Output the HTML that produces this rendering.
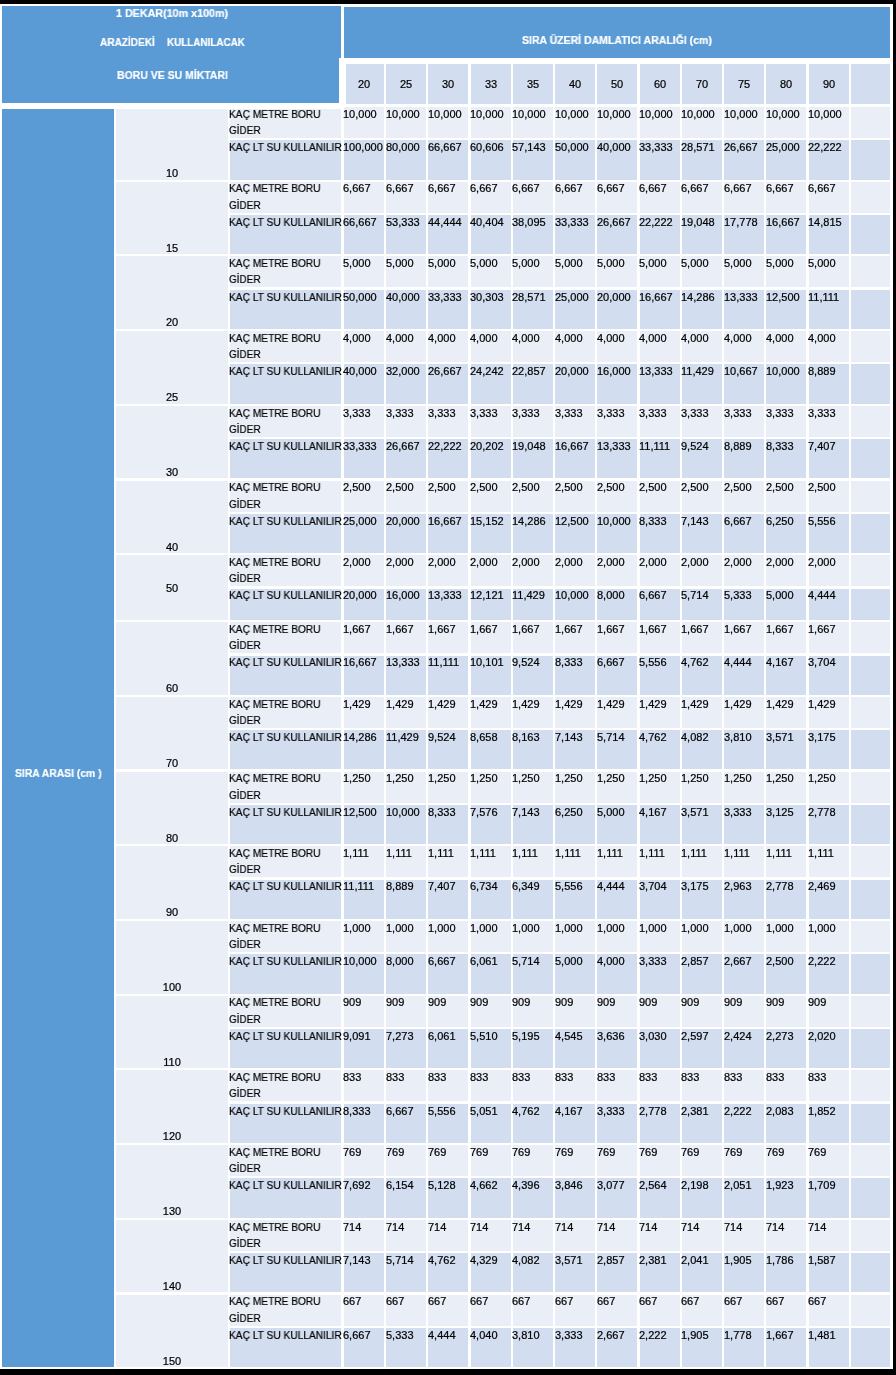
<!DOCTYPE html>
<html><head><meta charset="utf-8"><style>
html,body{margin:0;padding:0;background:#fff;width:896px;height:1375px;overflow:hidden;position:relative}
.r{position:absolute}
.t,.tb{position:absolute;font-family:"Liberation Sans",sans-serif;font-size:11px;line-height:12.65px;white-space:pre;color:#000;transform-origin:0 0;will-change:transform}
.tb{font-weight:bold;color:#fff;-webkit-text-stroke:0.2px #fff}
.t{-webkit-text-stroke:0.22px #000}
.c{transform:translateX(-50%)}
</style></head><body>
<div class="r" style="left:0.00px;top:0.00px;width:896.00px;height:4.00px;background:#000"></div>
<div class="r" style="left:893.00px;top:0.00px;width:3.00px;height:1375.00px;background:#000"></div>
<div class="r" style="left:0.00px;top:1369.00px;width:896.00px;height:6.00px;background:#000"></div>
<div class="r" style="left:2.20px;top:6.40px;width:339.00px;height:51.40px;background:#5B9BD5"></div>
<div class="r" style="left:2.20px;top:57.70px;width:337.00px;height:45.10px;background:#5B9BD5"></div>
<div class="r" style="left:343.60px;top:6.50px;width:546.90px;height:51.20px;background:#5B9BD5"></div>
<div class="r" style="left:345.80px;top:64.10px;width:38.10px;height:40.20px;background:#D2DEEF"></div>
<div class="r" style="left:386.00px;top:64.10px;width:40.10px;height:40.20px;background:#D2DEEF"></div>
<div class="r" style="left:428.25px;top:64.10px;width:40.10px;height:40.20px;background:#D2DEEF"></div>
<div class="r" style="left:470.50px;top:64.10px;width:40.10px;height:40.20px;background:#D2DEEF"></div>
<div class="r" style="left:512.75px;top:64.10px;width:40.10px;height:40.20px;background:#D2DEEF"></div>
<div class="r" style="left:555.00px;top:64.10px;width:40.10px;height:40.20px;background:#D2DEEF"></div>
<div class="r" style="left:597.25px;top:64.10px;width:40.10px;height:40.20px;background:#D2DEEF"></div>
<div class="r" style="left:639.50px;top:64.10px;width:40.10px;height:40.20px;background:#D2DEEF"></div>
<div class="r" style="left:681.75px;top:64.10px;width:40.10px;height:40.20px;background:#D2DEEF"></div>
<div class="r" style="left:724.00px;top:64.10px;width:40.10px;height:40.20px;background:#D2DEEF"></div>
<div class="r" style="left:766.25px;top:64.10px;width:40.10px;height:40.20px;background:#D2DEEF"></div>
<div class="r" style="left:808.50px;top:64.10px;width:40.10px;height:40.20px;background:#D2DEEF"></div>
<div class="r" style="left:850.90px;top:64.10px;width:39.50px;height:40.20px;background:#D2DEEF"></div>
<div class="r" style="left:2.20px;top:108.90px;width:111.70px;height:1257.90px;background:#5B9BD5"></div>
<div class="r" style="left:116.40px;top:108.80px;width:111.30px;height:70.80px;background:#EAEFF7"></div>
<div class="r" style="left:229.60px;top:108.80px;width:111.60px;height:29.20px;background:#EAEFF7"></div>
<div class="r" style="left:229.60px;top:140.30px;width:111.60px;height:39.30px;background:#D2DEEF"></div>
<div class="r" style="left:343.70px;top:107.00px;width:40.20px;height:31.00px;background:#EAEFF7"></div>
<div class="r" style="left:343.70px;top:140.30px;width:40.20px;height:39.30px;background:#D2DEEF"></div>
<div class="r" style="left:386.00px;top:107.00px;width:40.10px;height:31.00px;background:#EAEFF7"></div>
<div class="r" style="left:386.00px;top:140.30px;width:40.10px;height:39.30px;background:#D2DEEF"></div>
<div class="r" style="left:428.25px;top:107.00px;width:40.10px;height:31.00px;background:#EAEFF7"></div>
<div class="r" style="left:428.25px;top:140.30px;width:40.10px;height:39.30px;background:#D2DEEF"></div>
<div class="r" style="left:470.50px;top:107.00px;width:40.10px;height:31.00px;background:#EAEFF7"></div>
<div class="r" style="left:470.50px;top:140.30px;width:40.10px;height:39.30px;background:#D2DEEF"></div>
<div class="r" style="left:512.75px;top:107.00px;width:40.10px;height:31.00px;background:#EAEFF7"></div>
<div class="r" style="left:512.75px;top:140.30px;width:40.10px;height:39.30px;background:#D2DEEF"></div>
<div class="r" style="left:555.00px;top:107.00px;width:40.10px;height:31.00px;background:#EAEFF7"></div>
<div class="r" style="left:555.00px;top:140.30px;width:40.10px;height:39.30px;background:#D2DEEF"></div>
<div class="r" style="left:597.25px;top:107.00px;width:40.10px;height:31.00px;background:#EAEFF7"></div>
<div class="r" style="left:597.25px;top:140.30px;width:40.10px;height:39.30px;background:#D2DEEF"></div>
<div class="r" style="left:639.50px;top:107.00px;width:40.10px;height:31.00px;background:#EAEFF7"></div>
<div class="r" style="left:639.50px;top:140.30px;width:40.10px;height:39.30px;background:#D2DEEF"></div>
<div class="r" style="left:681.75px;top:107.00px;width:40.10px;height:31.00px;background:#EAEFF7"></div>
<div class="r" style="left:681.75px;top:140.30px;width:40.10px;height:39.30px;background:#D2DEEF"></div>
<div class="r" style="left:724.00px;top:107.00px;width:40.10px;height:31.00px;background:#EAEFF7"></div>
<div class="r" style="left:724.00px;top:140.30px;width:40.10px;height:39.30px;background:#D2DEEF"></div>
<div class="r" style="left:766.25px;top:107.00px;width:40.10px;height:31.00px;background:#EAEFF7"></div>
<div class="r" style="left:766.25px;top:140.30px;width:40.10px;height:39.30px;background:#D2DEEF"></div>
<div class="r" style="left:808.50px;top:107.00px;width:40.10px;height:31.00px;background:#EAEFF7"></div>
<div class="r" style="left:808.50px;top:140.30px;width:40.10px;height:39.30px;background:#D2DEEF"></div>
<div class="r" style="left:850.90px;top:107.00px;width:39.50px;height:31.00px;background:#EAEFF7"></div>
<div class="r" style="left:850.90px;top:140.30px;width:39.50px;height:39.30px;background:#D2DEEF"></div>
<div class="r" style="left:116.40px;top:181.70px;width:111.30px;height:72.60px;background:#EAEFF7"></div>
<div class="r" style="left:229.60px;top:181.70px;width:111.60px;height:31.00px;background:#EAEFF7"></div>
<div class="r" style="left:229.60px;top:215.00px;width:111.60px;height:39.30px;background:#D2DEEF"></div>
<div class="r" style="left:343.70px;top:181.70px;width:40.20px;height:31.00px;background:#EAEFF7"></div>
<div class="r" style="left:343.70px;top:215.00px;width:40.20px;height:39.30px;background:#D2DEEF"></div>
<div class="r" style="left:386.00px;top:181.70px;width:40.10px;height:31.00px;background:#EAEFF7"></div>
<div class="r" style="left:386.00px;top:215.00px;width:40.10px;height:39.30px;background:#D2DEEF"></div>
<div class="r" style="left:428.25px;top:181.70px;width:40.10px;height:31.00px;background:#EAEFF7"></div>
<div class="r" style="left:428.25px;top:215.00px;width:40.10px;height:39.30px;background:#D2DEEF"></div>
<div class="r" style="left:470.50px;top:181.70px;width:40.10px;height:31.00px;background:#EAEFF7"></div>
<div class="r" style="left:470.50px;top:215.00px;width:40.10px;height:39.30px;background:#D2DEEF"></div>
<div class="r" style="left:512.75px;top:181.70px;width:40.10px;height:31.00px;background:#EAEFF7"></div>
<div class="r" style="left:512.75px;top:215.00px;width:40.10px;height:39.30px;background:#D2DEEF"></div>
<div class="r" style="left:555.00px;top:181.70px;width:40.10px;height:31.00px;background:#EAEFF7"></div>
<div class="r" style="left:555.00px;top:215.00px;width:40.10px;height:39.30px;background:#D2DEEF"></div>
<div class="r" style="left:597.25px;top:181.70px;width:40.10px;height:31.00px;background:#EAEFF7"></div>
<div class="r" style="left:597.25px;top:215.00px;width:40.10px;height:39.30px;background:#D2DEEF"></div>
<div class="r" style="left:639.50px;top:181.70px;width:40.10px;height:31.00px;background:#EAEFF7"></div>
<div class="r" style="left:639.50px;top:215.00px;width:40.10px;height:39.30px;background:#D2DEEF"></div>
<div class="r" style="left:681.75px;top:181.70px;width:40.10px;height:31.00px;background:#EAEFF7"></div>
<div class="r" style="left:681.75px;top:215.00px;width:40.10px;height:39.30px;background:#D2DEEF"></div>
<div class="r" style="left:724.00px;top:181.70px;width:40.10px;height:31.00px;background:#EAEFF7"></div>
<div class="r" style="left:724.00px;top:215.00px;width:40.10px;height:39.30px;background:#D2DEEF"></div>
<div class="r" style="left:766.25px;top:181.70px;width:40.10px;height:31.00px;background:#EAEFF7"></div>
<div class="r" style="left:766.25px;top:215.00px;width:40.10px;height:39.30px;background:#D2DEEF"></div>
<div class="r" style="left:808.50px;top:181.70px;width:40.10px;height:31.00px;background:#EAEFF7"></div>
<div class="r" style="left:808.50px;top:215.00px;width:40.10px;height:39.30px;background:#D2DEEF"></div>
<div class="r" style="left:850.90px;top:181.70px;width:39.50px;height:31.00px;background:#EAEFF7"></div>
<div class="r" style="left:850.90px;top:215.00px;width:39.50px;height:39.30px;background:#D2DEEF"></div>
<div class="r" style="left:116.40px;top:256.40px;width:111.30px;height:72.60px;background:#EAEFF7"></div>
<div class="r" style="left:229.60px;top:256.40px;width:111.60px;height:31.00px;background:#EAEFF7"></div>
<div class="r" style="left:229.60px;top:289.70px;width:111.60px;height:39.30px;background:#D2DEEF"></div>
<div class="r" style="left:343.70px;top:256.40px;width:40.20px;height:31.00px;background:#EAEFF7"></div>
<div class="r" style="left:343.70px;top:289.70px;width:40.20px;height:39.30px;background:#D2DEEF"></div>
<div class="r" style="left:386.00px;top:256.40px;width:40.10px;height:31.00px;background:#EAEFF7"></div>
<div class="r" style="left:386.00px;top:289.70px;width:40.10px;height:39.30px;background:#D2DEEF"></div>
<div class="r" style="left:428.25px;top:256.40px;width:40.10px;height:31.00px;background:#EAEFF7"></div>
<div class="r" style="left:428.25px;top:289.70px;width:40.10px;height:39.30px;background:#D2DEEF"></div>
<div class="r" style="left:470.50px;top:256.40px;width:40.10px;height:31.00px;background:#EAEFF7"></div>
<div class="r" style="left:470.50px;top:289.70px;width:40.10px;height:39.30px;background:#D2DEEF"></div>
<div class="r" style="left:512.75px;top:256.40px;width:40.10px;height:31.00px;background:#EAEFF7"></div>
<div class="r" style="left:512.75px;top:289.70px;width:40.10px;height:39.30px;background:#D2DEEF"></div>
<div class="r" style="left:555.00px;top:256.40px;width:40.10px;height:31.00px;background:#EAEFF7"></div>
<div class="r" style="left:555.00px;top:289.70px;width:40.10px;height:39.30px;background:#D2DEEF"></div>
<div class="r" style="left:597.25px;top:256.40px;width:40.10px;height:31.00px;background:#EAEFF7"></div>
<div class="r" style="left:597.25px;top:289.70px;width:40.10px;height:39.30px;background:#D2DEEF"></div>
<div class="r" style="left:639.50px;top:256.40px;width:40.10px;height:31.00px;background:#EAEFF7"></div>
<div class="r" style="left:639.50px;top:289.70px;width:40.10px;height:39.30px;background:#D2DEEF"></div>
<div class="r" style="left:681.75px;top:256.40px;width:40.10px;height:31.00px;background:#EAEFF7"></div>
<div class="r" style="left:681.75px;top:289.70px;width:40.10px;height:39.30px;background:#D2DEEF"></div>
<div class="r" style="left:724.00px;top:256.40px;width:40.10px;height:31.00px;background:#EAEFF7"></div>
<div class="r" style="left:724.00px;top:289.70px;width:40.10px;height:39.30px;background:#D2DEEF"></div>
<div class="r" style="left:766.25px;top:256.40px;width:40.10px;height:31.00px;background:#EAEFF7"></div>
<div class="r" style="left:766.25px;top:289.70px;width:40.10px;height:39.30px;background:#D2DEEF"></div>
<div class="r" style="left:808.50px;top:256.40px;width:40.10px;height:31.00px;background:#EAEFF7"></div>
<div class="r" style="left:808.50px;top:289.70px;width:40.10px;height:39.30px;background:#D2DEEF"></div>
<div class="r" style="left:850.90px;top:256.40px;width:39.50px;height:31.00px;background:#EAEFF7"></div>
<div class="r" style="left:850.90px;top:289.70px;width:39.50px;height:39.30px;background:#D2DEEF"></div>
<div class="r" style="left:116.40px;top:331.10px;width:111.30px;height:72.60px;background:#EAEFF7"></div>
<div class="r" style="left:229.60px;top:331.10px;width:111.60px;height:31.00px;background:#EAEFF7"></div>
<div class="r" style="left:229.60px;top:364.40px;width:111.60px;height:39.30px;background:#D2DEEF"></div>
<div class="r" style="left:343.70px;top:331.10px;width:40.20px;height:31.00px;background:#EAEFF7"></div>
<div class="r" style="left:343.70px;top:364.40px;width:40.20px;height:39.30px;background:#D2DEEF"></div>
<div class="r" style="left:386.00px;top:331.10px;width:40.10px;height:31.00px;background:#EAEFF7"></div>
<div class="r" style="left:386.00px;top:364.40px;width:40.10px;height:39.30px;background:#D2DEEF"></div>
<div class="r" style="left:428.25px;top:331.10px;width:40.10px;height:31.00px;background:#EAEFF7"></div>
<div class="r" style="left:428.25px;top:364.40px;width:40.10px;height:39.30px;background:#D2DEEF"></div>
<div class="r" style="left:470.50px;top:331.10px;width:40.10px;height:31.00px;background:#EAEFF7"></div>
<div class="r" style="left:470.50px;top:364.40px;width:40.10px;height:39.30px;background:#D2DEEF"></div>
<div class="r" style="left:512.75px;top:331.10px;width:40.10px;height:31.00px;background:#EAEFF7"></div>
<div class="r" style="left:512.75px;top:364.40px;width:40.10px;height:39.30px;background:#D2DEEF"></div>
<div class="r" style="left:555.00px;top:331.10px;width:40.10px;height:31.00px;background:#EAEFF7"></div>
<div class="r" style="left:555.00px;top:364.40px;width:40.10px;height:39.30px;background:#D2DEEF"></div>
<div class="r" style="left:597.25px;top:331.10px;width:40.10px;height:31.00px;background:#EAEFF7"></div>
<div class="r" style="left:597.25px;top:364.40px;width:40.10px;height:39.30px;background:#D2DEEF"></div>
<div class="r" style="left:639.50px;top:331.10px;width:40.10px;height:31.00px;background:#EAEFF7"></div>
<div class="r" style="left:639.50px;top:364.40px;width:40.10px;height:39.30px;background:#D2DEEF"></div>
<div class="r" style="left:681.75px;top:331.10px;width:40.10px;height:31.00px;background:#EAEFF7"></div>
<div class="r" style="left:681.75px;top:364.40px;width:40.10px;height:39.30px;background:#D2DEEF"></div>
<div class="r" style="left:724.00px;top:331.10px;width:40.10px;height:31.00px;background:#EAEFF7"></div>
<div class="r" style="left:724.00px;top:364.40px;width:40.10px;height:39.30px;background:#D2DEEF"></div>
<div class="r" style="left:766.25px;top:331.10px;width:40.10px;height:31.00px;background:#EAEFF7"></div>
<div class="r" style="left:766.25px;top:364.40px;width:40.10px;height:39.30px;background:#D2DEEF"></div>
<div class="r" style="left:808.50px;top:331.10px;width:40.10px;height:31.00px;background:#EAEFF7"></div>
<div class="r" style="left:808.50px;top:364.40px;width:40.10px;height:39.30px;background:#D2DEEF"></div>
<div class="r" style="left:850.90px;top:331.10px;width:39.50px;height:31.00px;background:#EAEFF7"></div>
<div class="r" style="left:850.90px;top:364.40px;width:39.50px;height:39.30px;background:#D2DEEF"></div>
<div class="r" style="left:116.40px;top:405.80px;width:111.30px;height:72.60px;background:#EAEFF7"></div>
<div class="r" style="left:229.60px;top:405.80px;width:111.60px;height:31.00px;background:#EAEFF7"></div>
<div class="r" style="left:229.60px;top:439.10px;width:111.60px;height:39.30px;background:#D2DEEF"></div>
<div class="r" style="left:343.70px;top:405.80px;width:40.20px;height:31.00px;background:#EAEFF7"></div>
<div class="r" style="left:343.70px;top:439.10px;width:40.20px;height:39.30px;background:#D2DEEF"></div>
<div class="r" style="left:386.00px;top:405.80px;width:40.10px;height:31.00px;background:#EAEFF7"></div>
<div class="r" style="left:386.00px;top:439.10px;width:40.10px;height:39.30px;background:#D2DEEF"></div>
<div class="r" style="left:428.25px;top:405.80px;width:40.10px;height:31.00px;background:#EAEFF7"></div>
<div class="r" style="left:428.25px;top:439.10px;width:40.10px;height:39.30px;background:#D2DEEF"></div>
<div class="r" style="left:470.50px;top:405.80px;width:40.10px;height:31.00px;background:#EAEFF7"></div>
<div class="r" style="left:470.50px;top:439.10px;width:40.10px;height:39.30px;background:#D2DEEF"></div>
<div class="r" style="left:512.75px;top:405.80px;width:40.10px;height:31.00px;background:#EAEFF7"></div>
<div class="r" style="left:512.75px;top:439.10px;width:40.10px;height:39.30px;background:#D2DEEF"></div>
<div class="r" style="left:555.00px;top:405.80px;width:40.10px;height:31.00px;background:#EAEFF7"></div>
<div class="r" style="left:555.00px;top:439.10px;width:40.10px;height:39.30px;background:#D2DEEF"></div>
<div class="r" style="left:597.25px;top:405.80px;width:40.10px;height:31.00px;background:#EAEFF7"></div>
<div class="r" style="left:597.25px;top:439.10px;width:40.10px;height:39.30px;background:#D2DEEF"></div>
<div class="r" style="left:639.50px;top:405.80px;width:40.10px;height:31.00px;background:#EAEFF7"></div>
<div class="r" style="left:639.50px;top:439.10px;width:40.10px;height:39.30px;background:#D2DEEF"></div>
<div class="r" style="left:681.75px;top:405.80px;width:40.10px;height:31.00px;background:#EAEFF7"></div>
<div class="r" style="left:681.75px;top:439.10px;width:40.10px;height:39.30px;background:#D2DEEF"></div>
<div class="r" style="left:724.00px;top:405.80px;width:40.10px;height:31.00px;background:#EAEFF7"></div>
<div class="r" style="left:724.00px;top:439.10px;width:40.10px;height:39.30px;background:#D2DEEF"></div>
<div class="r" style="left:766.25px;top:405.80px;width:40.10px;height:31.00px;background:#EAEFF7"></div>
<div class="r" style="left:766.25px;top:439.10px;width:40.10px;height:39.30px;background:#D2DEEF"></div>
<div class="r" style="left:808.50px;top:405.80px;width:40.10px;height:31.00px;background:#EAEFF7"></div>
<div class="r" style="left:808.50px;top:439.10px;width:40.10px;height:39.30px;background:#D2DEEF"></div>
<div class="r" style="left:850.90px;top:405.80px;width:39.50px;height:31.00px;background:#EAEFF7"></div>
<div class="r" style="left:850.90px;top:439.10px;width:39.50px;height:39.30px;background:#D2DEEF"></div>
<div class="r" style="left:116.40px;top:480.50px;width:111.30px;height:72.60px;background:#EAEFF7"></div>
<div class="r" style="left:229.60px;top:480.50px;width:111.60px;height:31.00px;background:#EAEFF7"></div>
<div class="r" style="left:229.60px;top:513.80px;width:111.60px;height:39.30px;background:#D2DEEF"></div>
<div class="r" style="left:343.70px;top:480.50px;width:40.20px;height:31.00px;background:#EAEFF7"></div>
<div class="r" style="left:343.70px;top:513.80px;width:40.20px;height:39.30px;background:#D2DEEF"></div>
<div class="r" style="left:386.00px;top:480.50px;width:40.10px;height:31.00px;background:#EAEFF7"></div>
<div class="r" style="left:386.00px;top:513.80px;width:40.10px;height:39.30px;background:#D2DEEF"></div>
<div class="r" style="left:428.25px;top:480.50px;width:40.10px;height:31.00px;background:#EAEFF7"></div>
<div class="r" style="left:428.25px;top:513.80px;width:40.10px;height:39.30px;background:#D2DEEF"></div>
<div class="r" style="left:470.50px;top:480.50px;width:40.10px;height:31.00px;background:#EAEFF7"></div>
<div class="r" style="left:470.50px;top:513.80px;width:40.10px;height:39.30px;background:#D2DEEF"></div>
<div class="r" style="left:512.75px;top:480.50px;width:40.10px;height:31.00px;background:#EAEFF7"></div>
<div class="r" style="left:512.75px;top:513.80px;width:40.10px;height:39.30px;background:#D2DEEF"></div>
<div class="r" style="left:555.00px;top:480.50px;width:40.10px;height:31.00px;background:#EAEFF7"></div>
<div class="r" style="left:555.00px;top:513.80px;width:40.10px;height:39.30px;background:#D2DEEF"></div>
<div class="r" style="left:597.25px;top:480.50px;width:40.10px;height:31.00px;background:#EAEFF7"></div>
<div class="r" style="left:597.25px;top:513.80px;width:40.10px;height:39.30px;background:#D2DEEF"></div>
<div class="r" style="left:639.50px;top:480.50px;width:40.10px;height:31.00px;background:#EAEFF7"></div>
<div class="r" style="left:639.50px;top:513.80px;width:40.10px;height:39.30px;background:#D2DEEF"></div>
<div class="r" style="left:681.75px;top:480.50px;width:40.10px;height:31.00px;background:#EAEFF7"></div>
<div class="r" style="left:681.75px;top:513.80px;width:40.10px;height:39.30px;background:#D2DEEF"></div>
<div class="r" style="left:724.00px;top:480.50px;width:40.10px;height:31.00px;background:#EAEFF7"></div>
<div class="r" style="left:724.00px;top:513.80px;width:40.10px;height:39.30px;background:#D2DEEF"></div>
<div class="r" style="left:766.25px;top:480.50px;width:40.10px;height:31.00px;background:#EAEFF7"></div>
<div class="r" style="left:766.25px;top:513.80px;width:40.10px;height:39.30px;background:#D2DEEF"></div>
<div class="r" style="left:808.50px;top:480.50px;width:40.10px;height:31.00px;background:#EAEFF7"></div>
<div class="r" style="left:808.50px;top:513.80px;width:40.10px;height:39.30px;background:#D2DEEF"></div>
<div class="r" style="left:850.90px;top:480.50px;width:39.50px;height:31.00px;background:#EAEFF7"></div>
<div class="r" style="left:850.90px;top:513.80px;width:39.50px;height:39.30px;background:#D2DEEF"></div>
<div class="r" style="left:116.40px;top:555.20px;width:111.30px;height:64.80px;background:#EAEFF7"></div>
<div class="r" style="left:229.60px;top:555.20px;width:111.60px;height:31.00px;background:#EAEFF7"></div>
<div class="r" style="left:229.60px;top:589.20px;width:111.60px;height:30.80px;background:#D2DEEF"></div>
<div class="r" style="left:343.70px;top:555.20px;width:40.20px;height:31.00px;background:#EAEFF7"></div>
<div class="r" style="left:343.70px;top:589.20px;width:40.20px;height:30.80px;background:#D2DEEF"></div>
<div class="r" style="left:386.00px;top:555.20px;width:40.10px;height:31.00px;background:#EAEFF7"></div>
<div class="r" style="left:386.00px;top:589.20px;width:40.10px;height:30.80px;background:#D2DEEF"></div>
<div class="r" style="left:428.25px;top:555.20px;width:40.10px;height:31.00px;background:#EAEFF7"></div>
<div class="r" style="left:428.25px;top:589.20px;width:40.10px;height:30.80px;background:#D2DEEF"></div>
<div class="r" style="left:470.50px;top:555.20px;width:40.10px;height:31.00px;background:#EAEFF7"></div>
<div class="r" style="left:470.50px;top:589.20px;width:40.10px;height:30.80px;background:#D2DEEF"></div>
<div class="r" style="left:512.75px;top:555.20px;width:40.10px;height:31.00px;background:#EAEFF7"></div>
<div class="r" style="left:512.75px;top:589.20px;width:40.10px;height:30.80px;background:#D2DEEF"></div>
<div class="r" style="left:555.00px;top:555.20px;width:40.10px;height:31.00px;background:#EAEFF7"></div>
<div class="r" style="left:555.00px;top:589.20px;width:40.10px;height:30.80px;background:#D2DEEF"></div>
<div class="r" style="left:597.25px;top:555.20px;width:40.10px;height:31.00px;background:#EAEFF7"></div>
<div class="r" style="left:597.25px;top:589.20px;width:40.10px;height:30.80px;background:#D2DEEF"></div>
<div class="r" style="left:639.50px;top:555.20px;width:40.10px;height:31.00px;background:#EAEFF7"></div>
<div class="r" style="left:639.50px;top:589.20px;width:40.10px;height:30.80px;background:#D2DEEF"></div>
<div class="r" style="left:681.75px;top:555.20px;width:40.10px;height:31.00px;background:#EAEFF7"></div>
<div class="r" style="left:681.75px;top:589.20px;width:40.10px;height:30.80px;background:#D2DEEF"></div>
<div class="r" style="left:724.00px;top:555.20px;width:40.10px;height:31.00px;background:#EAEFF7"></div>
<div class="r" style="left:724.00px;top:589.20px;width:40.10px;height:30.80px;background:#D2DEEF"></div>
<div class="r" style="left:766.25px;top:555.20px;width:40.10px;height:31.00px;background:#EAEFF7"></div>
<div class="r" style="left:766.25px;top:589.20px;width:40.10px;height:30.80px;background:#D2DEEF"></div>
<div class="r" style="left:808.50px;top:555.20px;width:40.10px;height:31.00px;background:#EAEFF7"></div>
<div class="r" style="left:808.50px;top:589.20px;width:40.10px;height:30.80px;background:#D2DEEF"></div>
<div class="r" style="left:850.90px;top:555.20px;width:39.50px;height:31.00px;background:#EAEFF7"></div>
<div class="r" style="left:850.90px;top:589.20px;width:39.50px;height:30.80px;background:#D2DEEF"></div>
<div class="r" style="left:116.40px;top:622.20px;width:111.30px;height:72.60px;background:#EAEFF7"></div>
<div class="r" style="left:229.60px;top:622.20px;width:111.60px;height:31.00px;background:#EAEFF7"></div>
<div class="r" style="left:229.60px;top:655.50px;width:111.60px;height:39.30px;background:#D2DEEF"></div>
<div class="r" style="left:343.70px;top:622.20px;width:40.20px;height:31.00px;background:#EAEFF7"></div>
<div class="r" style="left:343.70px;top:655.50px;width:40.20px;height:39.30px;background:#D2DEEF"></div>
<div class="r" style="left:386.00px;top:622.20px;width:40.10px;height:31.00px;background:#EAEFF7"></div>
<div class="r" style="left:386.00px;top:655.50px;width:40.10px;height:39.30px;background:#D2DEEF"></div>
<div class="r" style="left:428.25px;top:622.20px;width:40.10px;height:31.00px;background:#EAEFF7"></div>
<div class="r" style="left:428.25px;top:655.50px;width:40.10px;height:39.30px;background:#D2DEEF"></div>
<div class="r" style="left:470.50px;top:622.20px;width:40.10px;height:31.00px;background:#EAEFF7"></div>
<div class="r" style="left:470.50px;top:655.50px;width:40.10px;height:39.30px;background:#D2DEEF"></div>
<div class="r" style="left:512.75px;top:622.20px;width:40.10px;height:31.00px;background:#EAEFF7"></div>
<div class="r" style="left:512.75px;top:655.50px;width:40.10px;height:39.30px;background:#D2DEEF"></div>
<div class="r" style="left:555.00px;top:622.20px;width:40.10px;height:31.00px;background:#EAEFF7"></div>
<div class="r" style="left:555.00px;top:655.50px;width:40.10px;height:39.30px;background:#D2DEEF"></div>
<div class="r" style="left:597.25px;top:622.20px;width:40.10px;height:31.00px;background:#EAEFF7"></div>
<div class="r" style="left:597.25px;top:655.50px;width:40.10px;height:39.30px;background:#D2DEEF"></div>
<div class="r" style="left:639.50px;top:622.20px;width:40.10px;height:31.00px;background:#EAEFF7"></div>
<div class="r" style="left:639.50px;top:655.50px;width:40.10px;height:39.30px;background:#D2DEEF"></div>
<div class="r" style="left:681.75px;top:622.20px;width:40.10px;height:31.00px;background:#EAEFF7"></div>
<div class="r" style="left:681.75px;top:655.50px;width:40.10px;height:39.30px;background:#D2DEEF"></div>
<div class="r" style="left:724.00px;top:622.20px;width:40.10px;height:31.00px;background:#EAEFF7"></div>
<div class="r" style="left:724.00px;top:655.50px;width:40.10px;height:39.30px;background:#D2DEEF"></div>
<div class="r" style="left:766.25px;top:622.20px;width:40.10px;height:31.00px;background:#EAEFF7"></div>
<div class="r" style="left:766.25px;top:655.50px;width:40.10px;height:39.30px;background:#D2DEEF"></div>
<div class="r" style="left:808.50px;top:622.20px;width:40.10px;height:31.00px;background:#EAEFF7"></div>
<div class="r" style="left:808.50px;top:655.50px;width:40.10px;height:39.30px;background:#D2DEEF"></div>
<div class="r" style="left:850.90px;top:622.20px;width:39.50px;height:31.00px;background:#EAEFF7"></div>
<div class="r" style="left:850.90px;top:655.50px;width:39.50px;height:39.30px;background:#D2DEEF"></div>
<div class="r" style="left:116.40px;top:696.90px;width:111.30px;height:72.60px;background:#EAEFF7"></div>
<div class="r" style="left:229.60px;top:696.90px;width:111.60px;height:31.00px;background:#EAEFF7"></div>
<div class="r" style="left:229.60px;top:730.20px;width:111.60px;height:39.30px;background:#D2DEEF"></div>
<div class="r" style="left:343.70px;top:696.90px;width:40.20px;height:31.00px;background:#EAEFF7"></div>
<div class="r" style="left:343.70px;top:730.20px;width:40.20px;height:39.30px;background:#D2DEEF"></div>
<div class="r" style="left:386.00px;top:696.90px;width:40.10px;height:31.00px;background:#EAEFF7"></div>
<div class="r" style="left:386.00px;top:730.20px;width:40.10px;height:39.30px;background:#D2DEEF"></div>
<div class="r" style="left:428.25px;top:696.90px;width:40.10px;height:31.00px;background:#EAEFF7"></div>
<div class="r" style="left:428.25px;top:730.20px;width:40.10px;height:39.30px;background:#D2DEEF"></div>
<div class="r" style="left:470.50px;top:696.90px;width:40.10px;height:31.00px;background:#EAEFF7"></div>
<div class="r" style="left:470.50px;top:730.20px;width:40.10px;height:39.30px;background:#D2DEEF"></div>
<div class="r" style="left:512.75px;top:696.90px;width:40.10px;height:31.00px;background:#EAEFF7"></div>
<div class="r" style="left:512.75px;top:730.20px;width:40.10px;height:39.30px;background:#D2DEEF"></div>
<div class="r" style="left:555.00px;top:696.90px;width:40.10px;height:31.00px;background:#EAEFF7"></div>
<div class="r" style="left:555.00px;top:730.20px;width:40.10px;height:39.30px;background:#D2DEEF"></div>
<div class="r" style="left:597.25px;top:696.90px;width:40.10px;height:31.00px;background:#EAEFF7"></div>
<div class="r" style="left:597.25px;top:730.20px;width:40.10px;height:39.30px;background:#D2DEEF"></div>
<div class="r" style="left:639.50px;top:696.90px;width:40.10px;height:31.00px;background:#EAEFF7"></div>
<div class="r" style="left:639.50px;top:730.20px;width:40.10px;height:39.30px;background:#D2DEEF"></div>
<div class="r" style="left:681.75px;top:696.90px;width:40.10px;height:31.00px;background:#EAEFF7"></div>
<div class="r" style="left:681.75px;top:730.20px;width:40.10px;height:39.30px;background:#D2DEEF"></div>
<div class="r" style="left:724.00px;top:696.90px;width:40.10px;height:31.00px;background:#EAEFF7"></div>
<div class="r" style="left:724.00px;top:730.20px;width:40.10px;height:39.30px;background:#D2DEEF"></div>
<div class="r" style="left:766.25px;top:696.90px;width:40.10px;height:31.00px;background:#EAEFF7"></div>
<div class="r" style="left:766.25px;top:730.20px;width:40.10px;height:39.30px;background:#D2DEEF"></div>
<div class="r" style="left:808.50px;top:696.90px;width:40.10px;height:31.00px;background:#EAEFF7"></div>
<div class="r" style="left:808.50px;top:730.20px;width:40.10px;height:39.30px;background:#D2DEEF"></div>
<div class="r" style="left:850.90px;top:696.90px;width:39.50px;height:31.00px;background:#EAEFF7"></div>
<div class="r" style="left:850.90px;top:730.20px;width:39.50px;height:39.30px;background:#D2DEEF"></div>
<div class="r" style="left:116.40px;top:771.60px;width:111.30px;height:72.60px;background:#EAEFF7"></div>
<div class="r" style="left:229.60px;top:771.60px;width:111.60px;height:31.00px;background:#EAEFF7"></div>
<div class="r" style="left:229.60px;top:804.90px;width:111.60px;height:39.30px;background:#D2DEEF"></div>
<div class="r" style="left:343.70px;top:771.60px;width:40.20px;height:31.00px;background:#EAEFF7"></div>
<div class="r" style="left:343.70px;top:804.90px;width:40.20px;height:39.30px;background:#D2DEEF"></div>
<div class="r" style="left:386.00px;top:771.60px;width:40.10px;height:31.00px;background:#EAEFF7"></div>
<div class="r" style="left:386.00px;top:804.90px;width:40.10px;height:39.30px;background:#D2DEEF"></div>
<div class="r" style="left:428.25px;top:771.60px;width:40.10px;height:31.00px;background:#EAEFF7"></div>
<div class="r" style="left:428.25px;top:804.90px;width:40.10px;height:39.30px;background:#D2DEEF"></div>
<div class="r" style="left:470.50px;top:771.60px;width:40.10px;height:31.00px;background:#EAEFF7"></div>
<div class="r" style="left:470.50px;top:804.90px;width:40.10px;height:39.30px;background:#D2DEEF"></div>
<div class="r" style="left:512.75px;top:771.60px;width:40.10px;height:31.00px;background:#EAEFF7"></div>
<div class="r" style="left:512.75px;top:804.90px;width:40.10px;height:39.30px;background:#D2DEEF"></div>
<div class="r" style="left:555.00px;top:771.60px;width:40.10px;height:31.00px;background:#EAEFF7"></div>
<div class="r" style="left:555.00px;top:804.90px;width:40.10px;height:39.30px;background:#D2DEEF"></div>
<div class="r" style="left:597.25px;top:771.60px;width:40.10px;height:31.00px;background:#EAEFF7"></div>
<div class="r" style="left:597.25px;top:804.90px;width:40.10px;height:39.30px;background:#D2DEEF"></div>
<div class="r" style="left:639.50px;top:771.60px;width:40.10px;height:31.00px;background:#EAEFF7"></div>
<div class="r" style="left:639.50px;top:804.90px;width:40.10px;height:39.30px;background:#D2DEEF"></div>
<div class="r" style="left:681.75px;top:771.60px;width:40.10px;height:31.00px;background:#EAEFF7"></div>
<div class="r" style="left:681.75px;top:804.90px;width:40.10px;height:39.30px;background:#D2DEEF"></div>
<div class="r" style="left:724.00px;top:771.60px;width:40.10px;height:31.00px;background:#EAEFF7"></div>
<div class="r" style="left:724.00px;top:804.90px;width:40.10px;height:39.30px;background:#D2DEEF"></div>
<div class="r" style="left:766.25px;top:771.60px;width:40.10px;height:31.00px;background:#EAEFF7"></div>
<div class="r" style="left:766.25px;top:804.90px;width:40.10px;height:39.30px;background:#D2DEEF"></div>
<div class="r" style="left:808.50px;top:771.60px;width:40.10px;height:31.00px;background:#EAEFF7"></div>
<div class="r" style="left:808.50px;top:804.90px;width:40.10px;height:39.30px;background:#D2DEEF"></div>
<div class="r" style="left:850.90px;top:771.60px;width:39.50px;height:31.00px;background:#EAEFF7"></div>
<div class="r" style="left:850.90px;top:804.90px;width:39.50px;height:39.30px;background:#D2DEEF"></div>
<div class="r" style="left:116.40px;top:846.30px;width:111.30px;height:72.60px;background:#EAEFF7"></div>
<div class="r" style="left:229.60px;top:846.30px;width:111.60px;height:31.00px;background:#EAEFF7"></div>
<div class="r" style="left:229.60px;top:879.60px;width:111.60px;height:39.30px;background:#D2DEEF"></div>
<div class="r" style="left:343.70px;top:846.30px;width:40.20px;height:31.00px;background:#EAEFF7"></div>
<div class="r" style="left:343.70px;top:879.60px;width:40.20px;height:39.30px;background:#D2DEEF"></div>
<div class="r" style="left:386.00px;top:846.30px;width:40.10px;height:31.00px;background:#EAEFF7"></div>
<div class="r" style="left:386.00px;top:879.60px;width:40.10px;height:39.30px;background:#D2DEEF"></div>
<div class="r" style="left:428.25px;top:846.30px;width:40.10px;height:31.00px;background:#EAEFF7"></div>
<div class="r" style="left:428.25px;top:879.60px;width:40.10px;height:39.30px;background:#D2DEEF"></div>
<div class="r" style="left:470.50px;top:846.30px;width:40.10px;height:31.00px;background:#EAEFF7"></div>
<div class="r" style="left:470.50px;top:879.60px;width:40.10px;height:39.30px;background:#D2DEEF"></div>
<div class="r" style="left:512.75px;top:846.30px;width:40.10px;height:31.00px;background:#EAEFF7"></div>
<div class="r" style="left:512.75px;top:879.60px;width:40.10px;height:39.30px;background:#D2DEEF"></div>
<div class="r" style="left:555.00px;top:846.30px;width:40.10px;height:31.00px;background:#EAEFF7"></div>
<div class="r" style="left:555.00px;top:879.60px;width:40.10px;height:39.30px;background:#D2DEEF"></div>
<div class="r" style="left:597.25px;top:846.30px;width:40.10px;height:31.00px;background:#EAEFF7"></div>
<div class="r" style="left:597.25px;top:879.60px;width:40.10px;height:39.30px;background:#D2DEEF"></div>
<div class="r" style="left:639.50px;top:846.30px;width:40.10px;height:31.00px;background:#EAEFF7"></div>
<div class="r" style="left:639.50px;top:879.60px;width:40.10px;height:39.30px;background:#D2DEEF"></div>
<div class="r" style="left:681.75px;top:846.30px;width:40.10px;height:31.00px;background:#EAEFF7"></div>
<div class="r" style="left:681.75px;top:879.60px;width:40.10px;height:39.30px;background:#D2DEEF"></div>
<div class="r" style="left:724.00px;top:846.30px;width:40.10px;height:31.00px;background:#EAEFF7"></div>
<div class="r" style="left:724.00px;top:879.60px;width:40.10px;height:39.30px;background:#D2DEEF"></div>
<div class="r" style="left:766.25px;top:846.30px;width:40.10px;height:31.00px;background:#EAEFF7"></div>
<div class="r" style="left:766.25px;top:879.60px;width:40.10px;height:39.30px;background:#D2DEEF"></div>
<div class="r" style="left:808.50px;top:846.30px;width:40.10px;height:31.00px;background:#EAEFF7"></div>
<div class="r" style="left:808.50px;top:879.60px;width:40.10px;height:39.30px;background:#D2DEEF"></div>
<div class="r" style="left:850.90px;top:846.30px;width:39.50px;height:31.00px;background:#EAEFF7"></div>
<div class="r" style="left:850.90px;top:879.60px;width:39.50px;height:39.30px;background:#D2DEEF"></div>
<div class="r" style="left:116.40px;top:921.00px;width:111.30px;height:72.60px;background:#EAEFF7"></div>
<div class="r" style="left:229.60px;top:921.00px;width:111.60px;height:31.00px;background:#EAEFF7"></div>
<div class="r" style="left:229.60px;top:954.30px;width:111.60px;height:39.30px;background:#D2DEEF"></div>
<div class="r" style="left:343.70px;top:921.00px;width:40.20px;height:31.00px;background:#EAEFF7"></div>
<div class="r" style="left:343.70px;top:954.30px;width:40.20px;height:39.30px;background:#D2DEEF"></div>
<div class="r" style="left:386.00px;top:921.00px;width:40.10px;height:31.00px;background:#EAEFF7"></div>
<div class="r" style="left:386.00px;top:954.30px;width:40.10px;height:39.30px;background:#D2DEEF"></div>
<div class="r" style="left:428.25px;top:921.00px;width:40.10px;height:31.00px;background:#EAEFF7"></div>
<div class="r" style="left:428.25px;top:954.30px;width:40.10px;height:39.30px;background:#D2DEEF"></div>
<div class="r" style="left:470.50px;top:921.00px;width:40.10px;height:31.00px;background:#EAEFF7"></div>
<div class="r" style="left:470.50px;top:954.30px;width:40.10px;height:39.30px;background:#D2DEEF"></div>
<div class="r" style="left:512.75px;top:921.00px;width:40.10px;height:31.00px;background:#EAEFF7"></div>
<div class="r" style="left:512.75px;top:954.30px;width:40.10px;height:39.30px;background:#D2DEEF"></div>
<div class="r" style="left:555.00px;top:921.00px;width:40.10px;height:31.00px;background:#EAEFF7"></div>
<div class="r" style="left:555.00px;top:954.30px;width:40.10px;height:39.30px;background:#D2DEEF"></div>
<div class="r" style="left:597.25px;top:921.00px;width:40.10px;height:31.00px;background:#EAEFF7"></div>
<div class="r" style="left:597.25px;top:954.30px;width:40.10px;height:39.30px;background:#D2DEEF"></div>
<div class="r" style="left:639.50px;top:921.00px;width:40.10px;height:31.00px;background:#EAEFF7"></div>
<div class="r" style="left:639.50px;top:954.30px;width:40.10px;height:39.30px;background:#D2DEEF"></div>
<div class="r" style="left:681.75px;top:921.00px;width:40.10px;height:31.00px;background:#EAEFF7"></div>
<div class="r" style="left:681.75px;top:954.30px;width:40.10px;height:39.30px;background:#D2DEEF"></div>
<div class="r" style="left:724.00px;top:921.00px;width:40.10px;height:31.00px;background:#EAEFF7"></div>
<div class="r" style="left:724.00px;top:954.30px;width:40.10px;height:39.30px;background:#D2DEEF"></div>
<div class="r" style="left:766.25px;top:921.00px;width:40.10px;height:31.00px;background:#EAEFF7"></div>
<div class="r" style="left:766.25px;top:954.30px;width:40.10px;height:39.30px;background:#D2DEEF"></div>
<div class="r" style="left:808.50px;top:921.00px;width:40.10px;height:31.00px;background:#EAEFF7"></div>
<div class="r" style="left:808.50px;top:954.30px;width:40.10px;height:39.30px;background:#D2DEEF"></div>
<div class="r" style="left:850.90px;top:921.00px;width:39.50px;height:31.00px;background:#EAEFF7"></div>
<div class="r" style="left:850.90px;top:954.30px;width:39.50px;height:39.30px;background:#D2DEEF"></div>
<div class="r" style="left:116.40px;top:995.70px;width:111.30px;height:72.60px;background:#EAEFF7"></div>
<div class="r" style="left:229.60px;top:995.70px;width:111.60px;height:31.00px;background:#EAEFF7"></div>
<div class="r" style="left:229.60px;top:1029.00px;width:111.60px;height:39.30px;background:#D2DEEF"></div>
<div class="r" style="left:343.70px;top:995.70px;width:40.20px;height:31.00px;background:#EAEFF7"></div>
<div class="r" style="left:343.70px;top:1029.00px;width:40.20px;height:39.30px;background:#D2DEEF"></div>
<div class="r" style="left:386.00px;top:995.70px;width:40.10px;height:31.00px;background:#EAEFF7"></div>
<div class="r" style="left:386.00px;top:1029.00px;width:40.10px;height:39.30px;background:#D2DEEF"></div>
<div class="r" style="left:428.25px;top:995.70px;width:40.10px;height:31.00px;background:#EAEFF7"></div>
<div class="r" style="left:428.25px;top:1029.00px;width:40.10px;height:39.30px;background:#D2DEEF"></div>
<div class="r" style="left:470.50px;top:995.70px;width:40.10px;height:31.00px;background:#EAEFF7"></div>
<div class="r" style="left:470.50px;top:1029.00px;width:40.10px;height:39.30px;background:#D2DEEF"></div>
<div class="r" style="left:512.75px;top:995.70px;width:40.10px;height:31.00px;background:#EAEFF7"></div>
<div class="r" style="left:512.75px;top:1029.00px;width:40.10px;height:39.30px;background:#D2DEEF"></div>
<div class="r" style="left:555.00px;top:995.70px;width:40.10px;height:31.00px;background:#EAEFF7"></div>
<div class="r" style="left:555.00px;top:1029.00px;width:40.10px;height:39.30px;background:#D2DEEF"></div>
<div class="r" style="left:597.25px;top:995.70px;width:40.10px;height:31.00px;background:#EAEFF7"></div>
<div class="r" style="left:597.25px;top:1029.00px;width:40.10px;height:39.30px;background:#D2DEEF"></div>
<div class="r" style="left:639.50px;top:995.70px;width:40.10px;height:31.00px;background:#EAEFF7"></div>
<div class="r" style="left:639.50px;top:1029.00px;width:40.10px;height:39.30px;background:#D2DEEF"></div>
<div class="r" style="left:681.75px;top:995.70px;width:40.10px;height:31.00px;background:#EAEFF7"></div>
<div class="r" style="left:681.75px;top:1029.00px;width:40.10px;height:39.30px;background:#D2DEEF"></div>
<div class="r" style="left:724.00px;top:995.70px;width:40.10px;height:31.00px;background:#EAEFF7"></div>
<div class="r" style="left:724.00px;top:1029.00px;width:40.10px;height:39.30px;background:#D2DEEF"></div>
<div class="r" style="left:766.25px;top:995.70px;width:40.10px;height:31.00px;background:#EAEFF7"></div>
<div class="r" style="left:766.25px;top:1029.00px;width:40.10px;height:39.30px;background:#D2DEEF"></div>
<div class="r" style="left:808.50px;top:995.70px;width:40.10px;height:31.00px;background:#EAEFF7"></div>
<div class="r" style="left:808.50px;top:1029.00px;width:40.10px;height:39.30px;background:#D2DEEF"></div>
<div class="r" style="left:850.90px;top:995.70px;width:39.50px;height:31.00px;background:#EAEFF7"></div>
<div class="r" style="left:850.90px;top:1029.00px;width:39.50px;height:39.30px;background:#D2DEEF"></div>
<div class="r" style="left:116.40px;top:1070.40px;width:111.30px;height:72.60px;background:#EAEFF7"></div>
<div class="r" style="left:229.60px;top:1070.40px;width:111.60px;height:31.00px;background:#EAEFF7"></div>
<div class="r" style="left:229.60px;top:1103.70px;width:111.60px;height:39.30px;background:#D2DEEF"></div>
<div class="r" style="left:343.70px;top:1070.40px;width:40.20px;height:31.00px;background:#EAEFF7"></div>
<div class="r" style="left:343.70px;top:1103.70px;width:40.20px;height:39.30px;background:#D2DEEF"></div>
<div class="r" style="left:386.00px;top:1070.40px;width:40.10px;height:31.00px;background:#EAEFF7"></div>
<div class="r" style="left:386.00px;top:1103.70px;width:40.10px;height:39.30px;background:#D2DEEF"></div>
<div class="r" style="left:428.25px;top:1070.40px;width:40.10px;height:31.00px;background:#EAEFF7"></div>
<div class="r" style="left:428.25px;top:1103.70px;width:40.10px;height:39.30px;background:#D2DEEF"></div>
<div class="r" style="left:470.50px;top:1070.40px;width:40.10px;height:31.00px;background:#EAEFF7"></div>
<div class="r" style="left:470.50px;top:1103.70px;width:40.10px;height:39.30px;background:#D2DEEF"></div>
<div class="r" style="left:512.75px;top:1070.40px;width:40.10px;height:31.00px;background:#EAEFF7"></div>
<div class="r" style="left:512.75px;top:1103.70px;width:40.10px;height:39.30px;background:#D2DEEF"></div>
<div class="r" style="left:555.00px;top:1070.40px;width:40.10px;height:31.00px;background:#EAEFF7"></div>
<div class="r" style="left:555.00px;top:1103.70px;width:40.10px;height:39.30px;background:#D2DEEF"></div>
<div class="r" style="left:597.25px;top:1070.40px;width:40.10px;height:31.00px;background:#EAEFF7"></div>
<div class="r" style="left:597.25px;top:1103.70px;width:40.10px;height:39.30px;background:#D2DEEF"></div>
<div class="r" style="left:639.50px;top:1070.40px;width:40.10px;height:31.00px;background:#EAEFF7"></div>
<div class="r" style="left:639.50px;top:1103.70px;width:40.10px;height:39.30px;background:#D2DEEF"></div>
<div class="r" style="left:681.75px;top:1070.40px;width:40.10px;height:31.00px;background:#EAEFF7"></div>
<div class="r" style="left:681.75px;top:1103.70px;width:40.10px;height:39.30px;background:#D2DEEF"></div>
<div class="r" style="left:724.00px;top:1070.40px;width:40.10px;height:31.00px;background:#EAEFF7"></div>
<div class="r" style="left:724.00px;top:1103.70px;width:40.10px;height:39.30px;background:#D2DEEF"></div>
<div class="r" style="left:766.25px;top:1070.40px;width:40.10px;height:31.00px;background:#EAEFF7"></div>
<div class="r" style="left:766.25px;top:1103.70px;width:40.10px;height:39.30px;background:#D2DEEF"></div>
<div class="r" style="left:808.50px;top:1070.40px;width:40.10px;height:31.00px;background:#EAEFF7"></div>
<div class="r" style="left:808.50px;top:1103.70px;width:40.10px;height:39.30px;background:#D2DEEF"></div>
<div class="r" style="left:850.90px;top:1070.40px;width:39.50px;height:31.00px;background:#EAEFF7"></div>
<div class="r" style="left:850.90px;top:1103.70px;width:39.50px;height:39.30px;background:#D2DEEF"></div>
<div class="r" style="left:116.40px;top:1145.10px;width:111.30px;height:72.60px;background:#EAEFF7"></div>
<div class="r" style="left:229.60px;top:1145.10px;width:111.60px;height:31.00px;background:#EAEFF7"></div>
<div class="r" style="left:229.60px;top:1178.40px;width:111.60px;height:39.30px;background:#D2DEEF"></div>
<div class="r" style="left:343.70px;top:1145.10px;width:40.20px;height:31.00px;background:#EAEFF7"></div>
<div class="r" style="left:343.70px;top:1178.40px;width:40.20px;height:39.30px;background:#D2DEEF"></div>
<div class="r" style="left:386.00px;top:1145.10px;width:40.10px;height:31.00px;background:#EAEFF7"></div>
<div class="r" style="left:386.00px;top:1178.40px;width:40.10px;height:39.30px;background:#D2DEEF"></div>
<div class="r" style="left:428.25px;top:1145.10px;width:40.10px;height:31.00px;background:#EAEFF7"></div>
<div class="r" style="left:428.25px;top:1178.40px;width:40.10px;height:39.30px;background:#D2DEEF"></div>
<div class="r" style="left:470.50px;top:1145.10px;width:40.10px;height:31.00px;background:#EAEFF7"></div>
<div class="r" style="left:470.50px;top:1178.40px;width:40.10px;height:39.30px;background:#D2DEEF"></div>
<div class="r" style="left:512.75px;top:1145.10px;width:40.10px;height:31.00px;background:#EAEFF7"></div>
<div class="r" style="left:512.75px;top:1178.40px;width:40.10px;height:39.30px;background:#D2DEEF"></div>
<div class="r" style="left:555.00px;top:1145.10px;width:40.10px;height:31.00px;background:#EAEFF7"></div>
<div class="r" style="left:555.00px;top:1178.40px;width:40.10px;height:39.30px;background:#D2DEEF"></div>
<div class="r" style="left:597.25px;top:1145.10px;width:40.10px;height:31.00px;background:#EAEFF7"></div>
<div class="r" style="left:597.25px;top:1178.40px;width:40.10px;height:39.30px;background:#D2DEEF"></div>
<div class="r" style="left:639.50px;top:1145.10px;width:40.10px;height:31.00px;background:#EAEFF7"></div>
<div class="r" style="left:639.50px;top:1178.40px;width:40.10px;height:39.30px;background:#D2DEEF"></div>
<div class="r" style="left:681.75px;top:1145.10px;width:40.10px;height:31.00px;background:#EAEFF7"></div>
<div class="r" style="left:681.75px;top:1178.40px;width:40.10px;height:39.30px;background:#D2DEEF"></div>
<div class="r" style="left:724.00px;top:1145.10px;width:40.10px;height:31.00px;background:#EAEFF7"></div>
<div class="r" style="left:724.00px;top:1178.40px;width:40.10px;height:39.30px;background:#D2DEEF"></div>
<div class="r" style="left:766.25px;top:1145.10px;width:40.10px;height:31.00px;background:#EAEFF7"></div>
<div class="r" style="left:766.25px;top:1178.40px;width:40.10px;height:39.30px;background:#D2DEEF"></div>
<div class="r" style="left:808.50px;top:1145.10px;width:40.10px;height:31.00px;background:#EAEFF7"></div>
<div class="r" style="left:808.50px;top:1178.40px;width:40.10px;height:39.30px;background:#D2DEEF"></div>
<div class="r" style="left:850.90px;top:1145.10px;width:39.50px;height:31.00px;background:#EAEFF7"></div>
<div class="r" style="left:850.90px;top:1178.40px;width:39.50px;height:39.30px;background:#D2DEEF"></div>
<div class="r" style="left:116.40px;top:1219.80px;width:111.30px;height:72.60px;background:#EAEFF7"></div>
<div class="r" style="left:229.60px;top:1219.80px;width:111.60px;height:31.00px;background:#EAEFF7"></div>
<div class="r" style="left:229.60px;top:1253.10px;width:111.60px;height:39.30px;background:#D2DEEF"></div>
<div class="r" style="left:343.70px;top:1219.80px;width:40.20px;height:31.00px;background:#EAEFF7"></div>
<div class="r" style="left:343.70px;top:1253.10px;width:40.20px;height:39.30px;background:#D2DEEF"></div>
<div class="r" style="left:386.00px;top:1219.80px;width:40.10px;height:31.00px;background:#EAEFF7"></div>
<div class="r" style="left:386.00px;top:1253.10px;width:40.10px;height:39.30px;background:#D2DEEF"></div>
<div class="r" style="left:428.25px;top:1219.80px;width:40.10px;height:31.00px;background:#EAEFF7"></div>
<div class="r" style="left:428.25px;top:1253.10px;width:40.10px;height:39.30px;background:#D2DEEF"></div>
<div class="r" style="left:470.50px;top:1219.80px;width:40.10px;height:31.00px;background:#EAEFF7"></div>
<div class="r" style="left:470.50px;top:1253.10px;width:40.10px;height:39.30px;background:#D2DEEF"></div>
<div class="r" style="left:512.75px;top:1219.80px;width:40.10px;height:31.00px;background:#EAEFF7"></div>
<div class="r" style="left:512.75px;top:1253.10px;width:40.10px;height:39.30px;background:#D2DEEF"></div>
<div class="r" style="left:555.00px;top:1219.80px;width:40.10px;height:31.00px;background:#EAEFF7"></div>
<div class="r" style="left:555.00px;top:1253.10px;width:40.10px;height:39.30px;background:#D2DEEF"></div>
<div class="r" style="left:597.25px;top:1219.80px;width:40.10px;height:31.00px;background:#EAEFF7"></div>
<div class="r" style="left:597.25px;top:1253.10px;width:40.10px;height:39.30px;background:#D2DEEF"></div>
<div class="r" style="left:639.50px;top:1219.80px;width:40.10px;height:31.00px;background:#EAEFF7"></div>
<div class="r" style="left:639.50px;top:1253.10px;width:40.10px;height:39.30px;background:#D2DEEF"></div>
<div class="r" style="left:681.75px;top:1219.80px;width:40.10px;height:31.00px;background:#EAEFF7"></div>
<div class="r" style="left:681.75px;top:1253.10px;width:40.10px;height:39.30px;background:#D2DEEF"></div>
<div class="r" style="left:724.00px;top:1219.80px;width:40.10px;height:31.00px;background:#EAEFF7"></div>
<div class="r" style="left:724.00px;top:1253.10px;width:40.10px;height:39.30px;background:#D2DEEF"></div>
<div class="r" style="left:766.25px;top:1219.80px;width:40.10px;height:31.00px;background:#EAEFF7"></div>
<div class="r" style="left:766.25px;top:1253.10px;width:40.10px;height:39.30px;background:#D2DEEF"></div>
<div class="r" style="left:808.50px;top:1219.80px;width:40.10px;height:31.00px;background:#EAEFF7"></div>
<div class="r" style="left:808.50px;top:1253.10px;width:40.10px;height:39.30px;background:#D2DEEF"></div>
<div class="r" style="left:850.90px;top:1219.80px;width:39.50px;height:31.00px;background:#EAEFF7"></div>
<div class="r" style="left:850.90px;top:1253.10px;width:39.50px;height:39.30px;background:#D2DEEF"></div>
<div class="r" style="left:116.40px;top:1294.50px;width:111.30px;height:72.60px;background:#EAEFF7"></div>
<div class="r" style="left:229.60px;top:1294.50px;width:111.60px;height:31.00px;background:#EAEFF7"></div>
<div class="r" style="left:229.60px;top:1327.80px;width:111.60px;height:39.30px;background:#D2DEEF"></div>
<div class="r" style="left:343.70px;top:1294.50px;width:40.20px;height:31.00px;background:#EAEFF7"></div>
<div class="r" style="left:343.70px;top:1327.80px;width:40.20px;height:39.30px;background:#D2DEEF"></div>
<div class="r" style="left:386.00px;top:1294.50px;width:40.10px;height:31.00px;background:#EAEFF7"></div>
<div class="r" style="left:386.00px;top:1327.80px;width:40.10px;height:39.30px;background:#D2DEEF"></div>
<div class="r" style="left:428.25px;top:1294.50px;width:40.10px;height:31.00px;background:#EAEFF7"></div>
<div class="r" style="left:428.25px;top:1327.80px;width:40.10px;height:39.30px;background:#D2DEEF"></div>
<div class="r" style="left:470.50px;top:1294.50px;width:40.10px;height:31.00px;background:#EAEFF7"></div>
<div class="r" style="left:470.50px;top:1327.80px;width:40.10px;height:39.30px;background:#D2DEEF"></div>
<div class="r" style="left:512.75px;top:1294.50px;width:40.10px;height:31.00px;background:#EAEFF7"></div>
<div class="r" style="left:512.75px;top:1327.80px;width:40.10px;height:39.30px;background:#D2DEEF"></div>
<div class="r" style="left:555.00px;top:1294.50px;width:40.10px;height:31.00px;background:#EAEFF7"></div>
<div class="r" style="left:555.00px;top:1327.80px;width:40.10px;height:39.30px;background:#D2DEEF"></div>
<div class="r" style="left:597.25px;top:1294.50px;width:40.10px;height:31.00px;background:#EAEFF7"></div>
<div class="r" style="left:597.25px;top:1327.80px;width:40.10px;height:39.30px;background:#D2DEEF"></div>
<div class="r" style="left:639.50px;top:1294.50px;width:40.10px;height:31.00px;background:#EAEFF7"></div>
<div class="r" style="left:639.50px;top:1327.80px;width:40.10px;height:39.30px;background:#D2DEEF"></div>
<div class="r" style="left:681.75px;top:1294.50px;width:40.10px;height:31.00px;background:#EAEFF7"></div>
<div class="r" style="left:681.75px;top:1327.80px;width:40.10px;height:39.30px;background:#D2DEEF"></div>
<div class="r" style="left:724.00px;top:1294.50px;width:40.10px;height:31.00px;background:#EAEFF7"></div>
<div class="r" style="left:724.00px;top:1327.80px;width:40.10px;height:39.30px;background:#D2DEEF"></div>
<div class="r" style="left:766.25px;top:1294.50px;width:40.10px;height:31.00px;background:#EAEFF7"></div>
<div class="r" style="left:766.25px;top:1327.80px;width:40.10px;height:39.30px;background:#D2DEEF"></div>
<div class="r" style="left:808.50px;top:1294.50px;width:40.10px;height:31.00px;background:#EAEFF7"></div>
<div class="r" style="left:808.50px;top:1327.80px;width:40.10px;height:39.30px;background:#D2DEEF"></div>
<div class="r" style="left:850.90px;top:1294.50px;width:39.50px;height:31.00px;background:#EAEFF7"></div>
<div class="r" style="left:850.90px;top:1327.80px;width:39.50px;height:39.30px;background:#D2DEEF"></div>
<div class="tb" style="left:116.20px;top:6.94px;transform:scaleX(0.975);">1 DEKAR(10m x100m)</div>
<div class="tb" style="left:99.50px;top:35.84px;transform:scaleX(0.916);">ARAZİDEKİ</div>
<div class="tb" style="left:166.50px;top:35.84px;transform:scaleX(0.897);">KULLANILACAK</div>
<div class="tb" style="left:116.80px;top:68.95px;transform:scaleX(0.952);">BORU VE SU MİKTARI</div>
<div class="tb" style="left:522.10px;top:34.15px;transform:scaleX(0.955);">SIRA ÜZERİ DAMLATICI ARALIĞI (cm)</div>
<div class="tb" style="left:14.65px;top:766.84px;transform:scaleX(0.94);">SIRA ARASI (cm )</div>
<div class="t c" style="left:363.80px;top:77.75px;">20</div>
<div class="t c" style="left:406.05px;top:77.75px;">25</div>
<div class="t c" style="left:448.30px;top:77.75px;">30</div>
<div class="t c" style="left:490.55px;top:77.75px;">33</div>
<div class="t c" style="left:532.80px;top:77.75px;">35</div>
<div class="t c" style="left:575.05px;top:77.75px;">40</div>
<div class="t c" style="left:617.30px;top:77.75px;">50</div>
<div class="t c" style="left:659.55px;top:77.75px;">60</div>
<div class="t c" style="left:701.80px;top:77.75px;">70</div>
<div class="t c" style="left:744.05px;top:77.75px;">75</div>
<div class="t c" style="left:786.30px;top:77.75px;">80</div>
<div class="t c" style="left:828.55px;top:77.75px;">90</div>
<div class="t" style="left:229.10px;top:107.75px;transform:scaleX(0.925);">KAÇ METRE BORU</div>
<div class="t" style="left:229.10px;top:124.05px;transform:scaleX(0.906);">GİDER</div>
<div class="t" style="left:229.10px;top:141.15px;transform:scaleX(0.925);">KAÇ LT SU KULLANILIR</div>
<div class="t c" style="left:172.00px;top:167.04px;">10</div>
<div class="t" style="left:343.40px;top:107.75px;">10,000</div>
<div class="t" style="left:343.40px;top:141.15px;">100,000</div>
<div class="t" style="left:385.60px;top:107.75px;">10,000</div>
<div class="t" style="left:385.60px;top:141.15px;">80,000</div>
<div class="t" style="left:427.85px;top:107.75px;">10,000</div>
<div class="t" style="left:427.85px;top:141.15px;">66,667</div>
<div class="t" style="left:470.10px;top:107.75px;">10,000</div>
<div class="t" style="left:470.10px;top:141.15px;">60,606</div>
<div class="t" style="left:512.35px;top:107.75px;">10,000</div>
<div class="t" style="left:512.35px;top:141.15px;">57,143</div>
<div class="t" style="left:554.60px;top:107.75px;">10,000</div>
<div class="t" style="left:554.60px;top:141.15px;">50,000</div>
<div class="t" style="left:596.85px;top:107.75px;">10,000</div>
<div class="t" style="left:596.85px;top:141.15px;">40,000</div>
<div class="t" style="left:639.10px;top:107.75px;">10,000</div>
<div class="t" style="left:639.10px;top:141.15px;">33,333</div>
<div class="t" style="left:681.35px;top:107.75px;">10,000</div>
<div class="t" style="left:681.35px;top:141.15px;">28,571</div>
<div class="t" style="left:723.60px;top:107.75px;">10,000</div>
<div class="t" style="left:723.60px;top:141.15px;">26,667</div>
<div class="t" style="left:765.85px;top:107.75px;">10,000</div>
<div class="t" style="left:765.85px;top:141.15px;">25,000</div>
<div class="t" style="left:808.10px;top:107.75px;">10,000</div>
<div class="t" style="left:808.10px;top:141.15px;">22,222</div>
<div class="t" style="left:229.10px;top:182.44px;transform:scaleX(0.925);">KAÇ METRE BORU</div>
<div class="t" style="left:229.10px;top:198.74px;transform:scaleX(0.906);">GİDER</div>
<div class="t" style="left:229.10px;top:215.84px;transform:scaleX(0.925);">KAÇ LT SU KULLANILIR</div>
<div class="t c" style="left:172.00px;top:241.74px;">15</div>
<div class="t" style="left:343.40px;top:182.44px;">6,667</div>
<div class="t" style="left:343.40px;top:215.84px;">66,667</div>
<div class="t" style="left:385.60px;top:182.44px;">6,667</div>
<div class="t" style="left:385.60px;top:215.84px;">53,333</div>
<div class="t" style="left:427.85px;top:182.44px;">6,667</div>
<div class="t" style="left:427.85px;top:215.84px;">44,444</div>
<div class="t" style="left:470.10px;top:182.44px;">6,667</div>
<div class="t" style="left:470.10px;top:215.84px;">40,404</div>
<div class="t" style="left:512.35px;top:182.44px;">6,667</div>
<div class="t" style="left:512.35px;top:215.84px;">38,095</div>
<div class="t" style="left:554.60px;top:182.44px;">6,667</div>
<div class="t" style="left:554.60px;top:215.84px;">33,333</div>
<div class="t" style="left:596.85px;top:182.44px;">6,667</div>
<div class="t" style="left:596.85px;top:215.84px;">26,667</div>
<div class="t" style="left:639.10px;top:182.44px;">6,667</div>
<div class="t" style="left:639.10px;top:215.84px;">22,222</div>
<div class="t" style="left:681.35px;top:182.44px;">6,667</div>
<div class="t" style="left:681.35px;top:215.84px;">19,048</div>
<div class="t" style="left:723.60px;top:182.44px;">6,667</div>
<div class="t" style="left:723.60px;top:215.84px;">17,778</div>
<div class="t" style="left:765.85px;top:182.44px;">6,667</div>
<div class="t" style="left:765.85px;top:215.84px;">16,667</div>
<div class="t" style="left:808.10px;top:182.44px;">6,667</div>
<div class="t" style="left:808.10px;top:215.84px;">14,815</div>
<div class="t" style="left:229.10px;top:257.14px;transform:scaleX(0.925);">KAÇ METRE BORU</div>
<div class="t" style="left:229.10px;top:273.44px;transform:scaleX(0.906);">GİDER</div>
<div class="t" style="left:229.10px;top:290.55px;transform:scaleX(0.925);">KAÇ LT SU KULLANILIR</div>
<div class="t c" style="left:172.00px;top:316.44px;">20</div>
<div class="t" style="left:343.40px;top:257.14px;">5,000</div>
<div class="t" style="left:343.40px;top:290.55px;">50,000</div>
<div class="t" style="left:385.60px;top:257.14px;">5,000</div>
<div class="t" style="left:385.60px;top:290.55px;">40,000</div>
<div class="t" style="left:427.85px;top:257.14px;">5,000</div>
<div class="t" style="left:427.85px;top:290.55px;">33,333</div>
<div class="t" style="left:470.10px;top:257.14px;">5,000</div>
<div class="t" style="left:470.10px;top:290.55px;">30,303</div>
<div class="t" style="left:512.35px;top:257.14px;">5,000</div>
<div class="t" style="left:512.35px;top:290.55px;">28,571</div>
<div class="t" style="left:554.60px;top:257.14px;">5,000</div>
<div class="t" style="left:554.60px;top:290.55px;">25,000</div>
<div class="t" style="left:596.85px;top:257.14px;">5,000</div>
<div class="t" style="left:596.85px;top:290.55px;">20,000</div>
<div class="t" style="left:639.10px;top:257.14px;">5,000</div>
<div class="t" style="left:639.10px;top:290.55px;">16,667</div>
<div class="t" style="left:681.35px;top:257.14px;">5,000</div>
<div class="t" style="left:681.35px;top:290.55px;">14,286</div>
<div class="t" style="left:723.60px;top:257.14px;">5,000</div>
<div class="t" style="left:723.60px;top:290.55px;">13,333</div>
<div class="t" style="left:765.85px;top:257.14px;">5,000</div>
<div class="t" style="left:765.85px;top:290.55px;">12,500</div>
<div class="t" style="left:808.10px;top:257.14px;">5,000</div>
<div class="t" style="left:808.10px;top:290.55px;">11,111</div>
<div class="t" style="left:229.10px;top:331.84px;transform:scaleX(0.925);">KAÇ METRE BORU</div>
<div class="t" style="left:229.10px;top:348.14px;transform:scaleX(0.906);">GİDER</div>
<div class="t" style="left:229.10px;top:365.25px;transform:scaleX(0.925);">KAÇ LT SU KULLANILIR</div>
<div class="t c" style="left:172.00px;top:391.14px;">25</div>
<div class="t" style="left:343.40px;top:331.84px;">4,000</div>
<div class="t" style="left:343.40px;top:365.25px;">40,000</div>
<div class="t" style="left:385.60px;top:331.84px;">4,000</div>
<div class="t" style="left:385.60px;top:365.25px;">32,000</div>
<div class="t" style="left:427.85px;top:331.84px;">4,000</div>
<div class="t" style="left:427.85px;top:365.25px;">26,667</div>
<div class="t" style="left:470.10px;top:331.84px;">4,000</div>
<div class="t" style="left:470.10px;top:365.25px;">24,242</div>
<div class="t" style="left:512.35px;top:331.84px;">4,000</div>
<div class="t" style="left:512.35px;top:365.25px;">22,857</div>
<div class="t" style="left:554.60px;top:331.84px;">4,000</div>
<div class="t" style="left:554.60px;top:365.25px;">20,000</div>
<div class="t" style="left:596.85px;top:331.84px;">4,000</div>
<div class="t" style="left:596.85px;top:365.25px;">16,000</div>
<div class="t" style="left:639.10px;top:331.84px;">4,000</div>
<div class="t" style="left:639.10px;top:365.25px;">13,333</div>
<div class="t" style="left:681.35px;top:331.84px;">4,000</div>
<div class="t" style="left:681.35px;top:365.25px;">11,429</div>
<div class="t" style="left:723.60px;top:331.84px;">4,000</div>
<div class="t" style="left:723.60px;top:365.25px;">10,667</div>
<div class="t" style="left:765.85px;top:331.84px;">4,000</div>
<div class="t" style="left:765.85px;top:365.25px;">10,000</div>
<div class="t" style="left:808.10px;top:331.84px;">4,000</div>
<div class="t" style="left:808.10px;top:365.25px;">8,889</div>
<div class="t" style="left:229.10px;top:406.54px;transform:scaleX(0.925);">KAÇ METRE BORU</div>
<div class="t" style="left:229.10px;top:422.84px;transform:scaleX(0.906);">GİDER</div>
<div class="t" style="left:229.10px;top:439.94px;transform:scaleX(0.925);">KAÇ LT SU KULLANILIR</div>
<div class="t c" style="left:172.00px;top:465.84px;">30</div>
<div class="t" style="left:343.40px;top:406.54px;">3,333</div>
<div class="t" style="left:343.40px;top:439.94px;">33,333</div>
<div class="t" style="left:385.60px;top:406.54px;">3,333</div>
<div class="t" style="left:385.60px;top:439.94px;">26,667</div>
<div class="t" style="left:427.85px;top:406.54px;">3,333</div>
<div class="t" style="left:427.85px;top:439.94px;">22,222</div>
<div class="t" style="left:470.10px;top:406.54px;">3,333</div>
<div class="t" style="left:470.10px;top:439.94px;">20,202</div>
<div class="t" style="left:512.35px;top:406.54px;">3,333</div>
<div class="t" style="left:512.35px;top:439.94px;">19,048</div>
<div class="t" style="left:554.60px;top:406.54px;">3,333</div>
<div class="t" style="left:554.60px;top:439.94px;">16,667</div>
<div class="t" style="left:596.85px;top:406.54px;">3,333</div>
<div class="t" style="left:596.85px;top:439.94px;">13,333</div>
<div class="t" style="left:639.10px;top:406.54px;">3,333</div>
<div class="t" style="left:639.10px;top:439.94px;">11,111</div>
<div class="t" style="left:681.35px;top:406.54px;">3,333</div>
<div class="t" style="left:681.35px;top:439.94px;">9,524</div>
<div class="t" style="left:723.60px;top:406.54px;">3,333</div>
<div class="t" style="left:723.60px;top:439.94px;">8,889</div>
<div class="t" style="left:765.85px;top:406.54px;">3,333</div>
<div class="t" style="left:765.85px;top:439.94px;">8,333</div>
<div class="t" style="left:808.10px;top:406.54px;">3,333</div>
<div class="t" style="left:808.10px;top:439.94px;">7,407</div>
<div class="t" style="left:229.10px;top:481.24px;transform:scaleX(0.925);">KAÇ METRE BORU</div>
<div class="t" style="left:229.10px;top:497.54px;transform:scaleX(0.906);">GİDER</div>
<div class="t" style="left:229.10px;top:514.64px;transform:scaleX(0.925);">KAÇ LT SU KULLANILIR</div>
<div class="t c" style="left:172.00px;top:540.54px;">40</div>
<div class="t" style="left:343.40px;top:481.24px;">2,500</div>
<div class="t" style="left:343.40px;top:514.64px;">25,000</div>
<div class="t" style="left:385.60px;top:481.24px;">2,500</div>
<div class="t" style="left:385.60px;top:514.64px;">20,000</div>
<div class="t" style="left:427.85px;top:481.24px;">2,500</div>
<div class="t" style="left:427.85px;top:514.64px;">16,667</div>
<div class="t" style="left:470.10px;top:481.24px;">2,500</div>
<div class="t" style="left:470.10px;top:514.64px;">15,152</div>
<div class="t" style="left:512.35px;top:481.24px;">2,500</div>
<div class="t" style="left:512.35px;top:514.64px;">14,286</div>
<div class="t" style="left:554.60px;top:481.24px;">2,500</div>
<div class="t" style="left:554.60px;top:514.64px;">12,500</div>
<div class="t" style="left:596.85px;top:481.24px;">2,500</div>
<div class="t" style="left:596.85px;top:514.64px;">10,000</div>
<div class="t" style="left:639.10px;top:481.24px;">2,500</div>
<div class="t" style="left:639.10px;top:514.64px;">8,333</div>
<div class="t" style="left:681.35px;top:481.24px;">2,500</div>
<div class="t" style="left:681.35px;top:514.64px;">7,143</div>
<div class="t" style="left:723.60px;top:481.24px;">2,500</div>
<div class="t" style="left:723.60px;top:514.64px;">6,667</div>
<div class="t" style="left:765.85px;top:481.24px;">2,500</div>
<div class="t" style="left:765.85px;top:514.64px;">6,250</div>
<div class="t" style="left:808.10px;top:481.24px;">2,500</div>
<div class="t" style="left:808.10px;top:514.64px;">5,556</div>
<div class="t" style="left:229.10px;top:555.94px;transform:scaleX(0.925);">KAÇ METRE BORU</div>
<div class="t" style="left:229.10px;top:572.24px;transform:scaleX(0.906);">GİDER</div>
<div class="t" style="left:229.10px;top:588.75px;transform:scaleX(0.925);">KAÇ LT SU KULLANILIR</div>
<div class="t c" style="left:172.00px;top:582.14px;">50</div>
<div class="t" style="left:343.40px;top:555.94px;">2,000</div>
<div class="t" style="left:343.40px;top:588.75px;">20,000</div>
<div class="t" style="left:385.60px;top:555.94px;">2,000</div>
<div class="t" style="left:385.60px;top:588.75px;">16,000</div>
<div class="t" style="left:427.85px;top:555.94px;">2,000</div>
<div class="t" style="left:427.85px;top:588.75px;">13,333</div>
<div class="t" style="left:470.10px;top:555.94px;">2,000</div>
<div class="t" style="left:470.10px;top:588.75px;">12,121</div>
<div class="t" style="left:512.35px;top:555.94px;">2,000</div>
<div class="t" style="left:512.35px;top:588.75px;">11,429</div>
<div class="t" style="left:554.60px;top:555.94px;">2,000</div>
<div class="t" style="left:554.60px;top:588.75px;">10,000</div>
<div class="t" style="left:596.85px;top:555.94px;">2,000</div>
<div class="t" style="left:596.85px;top:588.75px;">8,000</div>
<div class="t" style="left:639.10px;top:555.94px;">2,000</div>
<div class="t" style="left:639.10px;top:588.75px;">6,667</div>
<div class="t" style="left:681.35px;top:555.94px;">2,000</div>
<div class="t" style="left:681.35px;top:588.75px;">5,714</div>
<div class="t" style="left:723.60px;top:555.94px;">2,000</div>
<div class="t" style="left:723.60px;top:588.75px;">5,333</div>
<div class="t" style="left:765.85px;top:555.94px;">2,000</div>
<div class="t" style="left:765.85px;top:588.75px;">5,000</div>
<div class="t" style="left:808.10px;top:555.94px;">2,000</div>
<div class="t" style="left:808.10px;top:588.75px;">4,444</div>
<div class="t" style="left:229.10px;top:622.94px;transform:scaleX(0.925);">KAÇ METRE BORU</div>
<div class="t" style="left:229.10px;top:639.24px;transform:scaleX(0.906);">GİDER</div>
<div class="t" style="left:229.10px;top:656.34px;transform:scaleX(0.925);">KAÇ LT SU KULLANILIR</div>
<div class="t c" style="left:172.00px;top:682.24px;">60</div>
<div class="t" style="left:343.40px;top:622.94px;">1,667</div>
<div class="t" style="left:343.40px;top:656.34px;">16,667</div>
<div class="t" style="left:385.60px;top:622.94px;">1,667</div>
<div class="t" style="left:385.60px;top:656.34px;">13,333</div>
<div class="t" style="left:427.85px;top:622.94px;">1,667</div>
<div class="t" style="left:427.85px;top:656.34px;">11,111</div>
<div class="t" style="left:470.10px;top:622.94px;">1,667</div>
<div class="t" style="left:470.10px;top:656.34px;">10,101</div>
<div class="t" style="left:512.35px;top:622.94px;">1,667</div>
<div class="t" style="left:512.35px;top:656.34px;">9,524</div>
<div class="t" style="left:554.60px;top:622.94px;">1,667</div>
<div class="t" style="left:554.60px;top:656.34px;">8,333</div>
<div class="t" style="left:596.85px;top:622.94px;">1,667</div>
<div class="t" style="left:596.85px;top:656.34px;">6,667</div>
<div class="t" style="left:639.10px;top:622.94px;">1,667</div>
<div class="t" style="left:639.10px;top:656.34px;">5,556</div>
<div class="t" style="left:681.35px;top:622.94px;">1,667</div>
<div class="t" style="left:681.35px;top:656.34px;">4,762</div>
<div class="t" style="left:723.60px;top:622.94px;">1,667</div>
<div class="t" style="left:723.60px;top:656.34px;">4,444</div>
<div class="t" style="left:765.85px;top:622.94px;">1,667</div>
<div class="t" style="left:765.85px;top:656.34px;">4,167</div>
<div class="t" style="left:808.10px;top:622.94px;">1,667</div>
<div class="t" style="left:808.10px;top:656.34px;">3,704</div>
<div class="t" style="left:229.10px;top:697.64px;transform:scaleX(0.925);">KAÇ METRE BORU</div>
<div class="t" style="left:229.10px;top:713.94px;transform:scaleX(0.906);">GİDER</div>
<div class="t" style="left:229.10px;top:731.04px;transform:scaleX(0.925);">KAÇ LT SU KULLANILIR</div>
<div class="t c" style="left:172.00px;top:756.94px;">70</div>
<div class="t" style="left:343.40px;top:697.64px;">1,429</div>
<div class="t" style="left:343.40px;top:731.04px;">14,286</div>
<div class="t" style="left:385.60px;top:697.64px;">1,429</div>
<div class="t" style="left:385.60px;top:731.04px;">11,429</div>
<div class="t" style="left:427.85px;top:697.64px;">1,429</div>
<div class="t" style="left:427.85px;top:731.04px;">9,524</div>
<div class="t" style="left:470.10px;top:697.64px;">1,429</div>
<div class="t" style="left:470.10px;top:731.04px;">8,658</div>
<div class="t" style="left:512.35px;top:697.64px;">1,429</div>
<div class="t" style="left:512.35px;top:731.04px;">8,163</div>
<div class="t" style="left:554.60px;top:697.64px;">1,429</div>
<div class="t" style="left:554.60px;top:731.04px;">7,143</div>
<div class="t" style="left:596.85px;top:697.64px;">1,429</div>
<div class="t" style="left:596.85px;top:731.04px;">5,714</div>
<div class="t" style="left:639.10px;top:697.64px;">1,429</div>
<div class="t" style="left:639.10px;top:731.04px;">4,762</div>
<div class="t" style="left:681.35px;top:697.64px;">1,429</div>
<div class="t" style="left:681.35px;top:731.04px;">4,082</div>
<div class="t" style="left:723.60px;top:697.64px;">1,429</div>
<div class="t" style="left:723.60px;top:731.04px;">3,810</div>
<div class="t" style="left:765.85px;top:697.64px;">1,429</div>
<div class="t" style="left:765.85px;top:731.04px;">3,571</div>
<div class="t" style="left:808.10px;top:697.64px;">1,429</div>
<div class="t" style="left:808.10px;top:731.04px;">3,175</div>
<div class="t" style="left:229.10px;top:772.35px;transform:scaleX(0.925);">KAÇ METRE BORU</div>
<div class="t" style="left:229.10px;top:788.64px;transform:scaleX(0.906);">GİDER</div>
<div class="t" style="left:229.10px;top:805.74px;transform:scaleX(0.925);">KAÇ LT SU KULLANILIR</div>
<div class="t c" style="left:172.00px;top:831.64px;">80</div>
<div class="t" style="left:343.40px;top:772.35px;">1,250</div>
<div class="t" style="left:343.40px;top:805.74px;">12,500</div>
<div class="t" style="left:385.60px;top:772.35px;">1,250</div>
<div class="t" style="left:385.60px;top:805.74px;">10,000</div>
<div class="t" style="left:427.85px;top:772.35px;">1,250</div>
<div class="t" style="left:427.85px;top:805.74px;">8,333</div>
<div class="t" style="left:470.10px;top:772.35px;">1,250</div>
<div class="t" style="left:470.10px;top:805.74px;">7,576</div>
<div class="t" style="left:512.35px;top:772.35px;">1,250</div>
<div class="t" style="left:512.35px;top:805.74px;">7,143</div>
<div class="t" style="left:554.60px;top:772.35px;">1,250</div>
<div class="t" style="left:554.60px;top:805.74px;">6,250</div>
<div class="t" style="left:596.85px;top:772.35px;">1,250</div>
<div class="t" style="left:596.85px;top:805.74px;">5,000</div>
<div class="t" style="left:639.10px;top:772.35px;">1,250</div>
<div class="t" style="left:639.10px;top:805.74px;">4,167</div>
<div class="t" style="left:681.35px;top:772.35px;">1,250</div>
<div class="t" style="left:681.35px;top:805.74px;">3,571</div>
<div class="t" style="left:723.60px;top:772.35px;">1,250</div>
<div class="t" style="left:723.60px;top:805.74px;">3,333</div>
<div class="t" style="left:765.85px;top:772.35px;">1,250</div>
<div class="t" style="left:765.85px;top:805.74px;">3,125</div>
<div class="t" style="left:808.10px;top:772.35px;">1,250</div>
<div class="t" style="left:808.10px;top:805.74px;">2,778</div>
<div class="t" style="left:229.10px;top:847.05px;transform:scaleX(0.925);">KAÇ METRE BORU</div>
<div class="t" style="left:229.10px;top:863.35px;transform:scaleX(0.906);">GİDER</div>
<div class="t" style="left:229.10px;top:880.44px;transform:scaleX(0.925);">KAÇ LT SU KULLANILIR</div>
<div class="t c" style="left:172.00px;top:906.35px;">90</div>
<div class="t" style="left:343.40px;top:847.05px;">1,111</div>
<div class="t" style="left:343.40px;top:880.44px;">11,111</div>
<div class="t" style="left:385.60px;top:847.05px;">1,111</div>
<div class="t" style="left:385.60px;top:880.44px;">8,889</div>
<div class="t" style="left:427.85px;top:847.05px;">1,111</div>
<div class="t" style="left:427.85px;top:880.44px;">7,407</div>
<div class="t" style="left:470.10px;top:847.05px;">1,111</div>
<div class="t" style="left:470.10px;top:880.44px;">6,734</div>
<div class="t" style="left:512.35px;top:847.05px;">1,111</div>
<div class="t" style="left:512.35px;top:880.44px;">6,349</div>
<div class="t" style="left:554.60px;top:847.05px;">1,111</div>
<div class="t" style="left:554.60px;top:880.44px;">5,556</div>
<div class="t" style="left:596.85px;top:847.05px;">1,111</div>
<div class="t" style="left:596.85px;top:880.44px;">4,444</div>
<div class="t" style="left:639.10px;top:847.05px;">1,111</div>
<div class="t" style="left:639.10px;top:880.44px;">3,704</div>
<div class="t" style="left:681.35px;top:847.05px;">1,111</div>
<div class="t" style="left:681.35px;top:880.44px;">3,175</div>
<div class="t" style="left:723.60px;top:847.05px;">1,111</div>
<div class="t" style="left:723.60px;top:880.44px;">2,963</div>
<div class="t" style="left:765.85px;top:847.05px;">1,111</div>
<div class="t" style="left:765.85px;top:880.44px;">2,778</div>
<div class="t" style="left:808.10px;top:847.05px;">1,111</div>
<div class="t" style="left:808.10px;top:880.44px;">2,469</div>
<div class="t" style="left:229.10px;top:921.75px;transform:scaleX(0.925);">KAÇ METRE BORU</div>
<div class="t" style="left:229.10px;top:938.05px;transform:scaleX(0.906);">GİDER</div>
<div class="t" style="left:229.10px;top:955.14px;transform:scaleX(0.925);">KAÇ LT SU KULLANILIR</div>
<div class="t c" style="left:172.00px;top:981.05px;">100</div>
<div class="t" style="left:343.40px;top:921.75px;">1,000</div>
<div class="t" style="left:343.40px;top:955.14px;">10,000</div>
<div class="t" style="left:385.60px;top:921.75px;">1,000</div>
<div class="t" style="left:385.60px;top:955.14px;">8,000</div>
<div class="t" style="left:427.85px;top:921.75px;">1,000</div>
<div class="t" style="left:427.85px;top:955.14px;">6,667</div>
<div class="t" style="left:470.10px;top:921.75px;">1,000</div>
<div class="t" style="left:470.10px;top:955.14px;">6,061</div>
<div class="t" style="left:512.35px;top:921.75px;">1,000</div>
<div class="t" style="left:512.35px;top:955.14px;">5,714</div>
<div class="t" style="left:554.60px;top:921.75px;">1,000</div>
<div class="t" style="left:554.60px;top:955.14px;">5,000</div>
<div class="t" style="left:596.85px;top:921.75px;">1,000</div>
<div class="t" style="left:596.85px;top:955.14px;">4,000</div>
<div class="t" style="left:639.10px;top:921.75px;">1,000</div>
<div class="t" style="left:639.10px;top:955.14px;">3,333</div>
<div class="t" style="left:681.35px;top:921.75px;">1,000</div>
<div class="t" style="left:681.35px;top:955.14px;">2,857</div>
<div class="t" style="left:723.60px;top:921.75px;">1,000</div>
<div class="t" style="left:723.60px;top:955.14px;">2,667</div>
<div class="t" style="left:765.85px;top:921.75px;">1,000</div>
<div class="t" style="left:765.85px;top:955.14px;">2,500</div>
<div class="t" style="left:808.10px;top:921.75px;">1,000</div>
<div class="t" style="left:808.10px;top:955.14px;">2,222</div>
<div class="t" style="left:229.10px;top:996.45px;transform:scaleX(0.925);">KAÇ METRE BORU</div>
<div class="t" style="left:229.10px;top:1012.75px;transform:scaleX(0.906);">GİDER</div>
<div class="t" style="left:229.10px;top:1029.85px;transform:scaleX(0.925);">KAÇ LT SU KULLANILIR</div>
<div class="t c" style="left:172.00px;top:1055.75px;">110</div>
<div class="t" style="left:343.40px;top:996.45px;">909</div>
<div class="t" style="left:343.40px;top:1029.85px;">9,091</div>
<div class="t" style="left:385.60px;top:996.45px;">909</div>
<div class="t" style="left:385.60px;top:1029.85px;">7,273</div>
<div class="t" style="left:427.85px;top:996.45px;">909</div>
<div class="t" style="left:427.85px;top:1029.85px;">6,061</div>
<div class="t" style="left:470.10px;top:996.45px;">909</div>
<div class="t" style="left:470.10px;top:1029.85px;">5,510</div>
<div class="t" style="left:512.35px;top:996.45px;">909</div>
<div class="t" style="left:512.35px;top:1029.85px;">5,195</div>
<div class="t" style="left:554.60px;top:996.45px;">909</div>
<div class="t" style="left:554.60px;top:1029.85px;">4,545</div>
<div class="t" style="left:596.85px;top:996.45px;">909</div>
<div class="t" style="left:596.85px;top:1029.85px;">3,636</div>
<div class="t" style="left:639.10px;top:996.45px;">909</div>
<div class="t" style="left:639.10px;top:1029.85px;">3,030</div>
<div class="t" style="left:681.35px;top:996.45px;">909</div>
<div class="t" style="left:681.35px;top:1029.85px;">2,597</div>
<div class="t" style="left:723.60px;top:996.45px;">909</div>
<div class="t" style="left:723.60px;top:1029.85px;">2,424</div>
<div class="t" style="left:765.85px;top:996.45px;">909</div>
<div class="t" style="left:765.85px;top:1029.85px;">2,273</div>
<div class="t" style="left:808.10px;top:996.45px;">909</div>
<div class="t" style="left:808.10px;top:1029.85px;">2,020</div>
<div class="t" style="left:229.10px;top:1071.15px;transform:scaleX(0.925);">KAÇ METRE BORU</div>
<div class="t" style="left:229.10px;top:1087.45px;transform:scaleX(0.906);">GİDER</div>
<div class="t" style="left:229.10px;top:1104.55px;transform:scaleX(0.925);">KAÇ LT SU KULLANILIR</div>
<div class="t c" style="left:172.00px;top:1130.45px;">120</div>
<div class="t" style="left:343.40px;top:1071.15px;">833</div>
<div class="t" style="left:343.40px;top:1104.55px;">8,333</div>
<div class="t" style="left:385.60px;top:1071.15px;">833</div>
<div class="t" style="left:385.60px;top:1104.55px;">6,667</div>
<div class="t" style="left:427.85px;top:1071.15px;">833</div>
<div class="t" style="left:427.85px;top:1104.55px;">5,556</div>
<div class="t" style="left:470.10px;top:1071.15px;">833</div>
<div class="t" style="left:470.10px;top:1104.55px;">5,051</div>
<div class="t" style="left:512.35px;top:1071.15px;">833</div>
<div class="t" style="left:512.35px;top:1104.55px;">4,762</div>
<div class="t" style="left:554.60px;top:1071.15px;">833</div>
<div class="t" style="left:554.60px;top:1104.55px;">4,167</div>
<div class="t" style="left:596.85px;top:1071.15px;">833</div>
<div class="t" style="left:596.85px;top:1104.55px;">3,333</div>
<div class="t" style="left:639.10px;top:1071.15px;">833</div>
<div class="t" style="left:639.10px;top:1104.55px;">2,778</div>
<div class="t" style="left:681.35px;top:1071.15px;">833</div>
<div class="t" style="left:681.35px;top:1104.55px;">2,381</div>
<div class="t" style="left:723.60px;top:1071.15px;">833</div>
<div class="t" style="left:723.60px;top:1104.55px;">2,222</div>
<div class="t" style="left:765.85px;top:1071.15px;">833</div>
<div class="t" style="left:765.85px;top:1104.55px;">2,083</div>
<div class="t" style="left:808.10px;top:1071.15px;">833</div>
<div class="t" style="left:808.10px;top:1104.55px;">1,852</div>
<div class="t" style="left:229.10px;top:1145.85px;transform:scaleX(0.925);">KAÇ METRE BORU</div>
<div class="t" style="left:229.10px;top:1162.15px;transform:scaleX(0.906);">GİDER</div>
<div class="t" style="left:229.10px;top:1179.25px;transform:scaleX(0.925);">KAÇ LT SU KULLANILIR</div>
<div class="t c" style="left:172.00px;top:1205.15px;">130</div>
<div class="t" style="left:343.40px;top:1145.85px;">769</div>
<div class="t" style="left:343.40px;top:1179.25px;">7,692</div>
<div class="t" style="left:385.60px;top:1145.85px;">769</div>
<div class="t" style="left:385.60px;top:1179.25px;">6,154</div>
<div class="t" style="left:427.85px;top:1145.85px;">769</div>
<div class="t" style="left:427.85px;top:1179.25px;">5,128</div>
<div class="t" style="left:470.10px;top:1145.85px;">769</div>
<div class="t" style="left:470.10px;top:1179.25px;">4,662</div>
<div class="t" style="left:512.35px;top:1145.85px;">769</div>
<div class="t" style="left:512.35px;top:1179.25px;">4,396</div>
<div class="t" style="left:554.60px;top:1145.85px;">769</div>
<div class="t" style="left:554.60px;top:1179.25px;">3,846</div>
<div class="t" style="left:596.85px;top:1145.85px;">769</div>
<div class="t" style="left:596.85px;top:1179.25px;">3,077</div>
<div class="t" style="left:639.10px;top:1145.85px;">769</div>
<div class="t" style="left:639.10px;top:1179.25px;">2,564</div>
<div class="t" style="left:681.35px;top:1145.85px;">769</div>
<div class="t" style="left:681.35px;top:1179.25px;">2,198</div>
<div class="t" style="left:723.60px;top:1145.85px;">769</div>
<div class="t" style="left:723.60px;top:1179.25px;">2,051</div>
<div class="t" style="left:765.85px;top:1145.85px;">769</div>
<div class="t" style="left:765.85px;top:1179.25px;">1,923</div>
<div class="t" style="left:808.10px;top:1145.85px;">769</div>
<div class="t" style="left:808.10px;top:1179.25px;">1,709</div>
<div class="t" style="left:229.10px;top:1220.55px;transform:scaleX(0.925);">KAÇ METRE BORU</div>
<div class="t" style="left:229.10px;top:1236.85px;transform:scaleX(0.906);">GİDER</div>
<div class="t" style="left:229.10px;top:1253.95px;transform:scaleX(0.925);">KAÇ LT SU KULLANILIR</div>
<div class="t c" style="left:172.00px;top:1279.85px;">140</div>
<div class="t" style="left:343.40px;top:1220.55px;">714</div>
<div class="t" style="left:343.40px;top:1253.95px;">7,143</div>
<div class="t" style="left:385.60px;top:1220.55px;">714</div>
<div class="t" style="left:385.60px;top:1253.95px;">5,714</div>
<div class="t" style="left:427.85px;top:1220.55px;">714</div>
<div class="t" style="left:427.85px;top:1253.95px;">4,762</div>
<div class="t" style="left:470.10px;top:1220.55px;">714</div>
<div class="t" style="left:470.10px;top:1253.95px;">4,329</div>
<div class="t" style="left:512.35px;top:1220.55px;">714</div>
<div class="t" style="left:512.35px;top:1253.95px;">4,082</div>
<div class="t" style="left:554.60px;top:1220.55px;">714</div>
<div class="t" style="left:554.60px;top:1253.95px;">3,571</div>
<div class="t" style="left:596.85px;top:1220.55px;">714</div>
<div class="t" style="left:596.85px;top:1253.95px;">2,857</div>
<div class="t" style="left:639.10px;top:1220.55px;">714</div>
<div class="t" style="left:639.10px;top:1253.95px;">2,381</div>
<div class="t" style="left:681.35px;top:1220.55px;">714</div>
<div class="t" style="left:681.35px;top:1253.95px;">2,041</div>
<div class="t" style="left:723.60px;top:1220.55px;">714</div>
<div class="t" style="left:723.60px;top:1253.95px;">1,905</div>
<div class="t" style="left:765.85px;top:1220.55px;">714</div>
<div class="t" style="left:765.85px;top:1253.95px;">1,786</div>
<div class="t" style="left:808.10px;top:1220.55px;">714</div>
<div class="t" style="left:808.10px;top:1253.95px;">1,587</div>
<div class="t" style="left:229.10px;top:1295.25px;transform:scaleX(0.925);">KAÇ METRE BORU</div>
<div class="t" style="left:229.10px;top:1311.55px;transform:scaleX(0.906);">GİDER</div>
<div class="t" style="left:229.10px;top:1328.65px;transform:scaleX(0.925);">KAÇ LT SU KULLANILIR</div>
<div class="t c" style="left:172.00px;top:1354.55px;">150</div>
<div class="t" style="left:343.40px;top:1295.25px;">667</div>
<div class="t" style="left:343.40px;top:1328.65px;">6,667</div>
<div class="t" style="left:385.60px;top:1295.25px;">667</div>
<div class="t" style="left:385.60px;top:1328.65px;">5,333</div>
<div class="t" style="left:427.85px;top:1295.25px;">667</div>
<div class="t" style="left:427.85px;top:1328.65px;">4,444</div>
<div class="t" style="left:470.10px;top:1295.25px;">667</div>
<div class="t" style="left:470.10px;top:1328.65px;">4,040</div>
<div class="t" style="left:512.35px;top:1295.25px;">667</div>
<div class="t" style="left:512.35px;top:1328.65px;">3,810</div>
<div class="t" style="left:554.60px;top:1295.25px;">667</div>
<div class="t" style="left:554.60px;top:1328.65px;">3,333</div>
<div class="t" style="left:596.85px;top:1295.25px;">667</div>
<div class="t" style="left:596.85px;top:1328.65px;">2,667</div>
<div class="t" style="left:639.10px;top:1295.25px;">667</div>
<div class="t" style="left:639.10px;top:1328.65px;">2,222</div>
<div class="t" style="left:681.35px;top:1295.25px;">667</div>
<div class="t" style="left:681.35px;top:1328.65px;">1,905</div>
<div class="t" style="left:723.60px;top:1295.25px;">667</div>
<div class="t" style="left:723.60px;top:1328.65px;">1,778</div>
<div class="t" style="left:765.85px;top:1295.25px;">667</div>
<div class="t" style="left:765.85px;top:1328.65px;">1,667</div>
<div class="t" style="left:808.10px;top:1295.25px;">667</div>
<div class="t" style="left:808.10px;top:1328.65px;">1,481</div>
</body></html>
